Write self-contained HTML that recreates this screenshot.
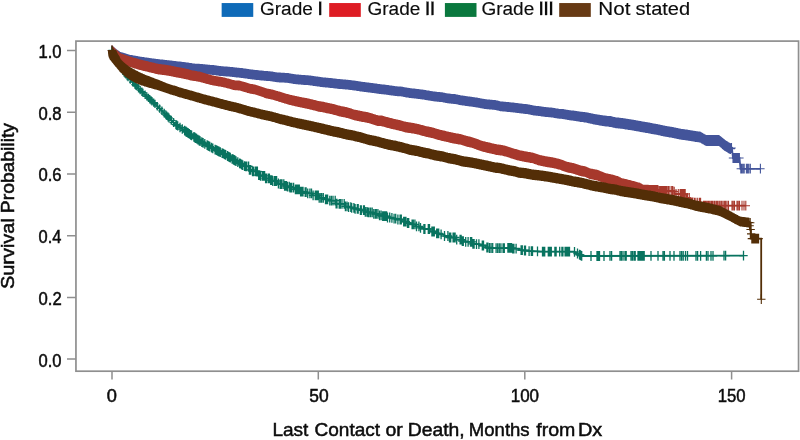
<!DOCTYPE html>
<html><head><meta charset="utf-8"><title>Survival by grade</title>
<style>
html,body{margin:0;padding:0;background:#fff}
#c{position:relative;width:800px;height:440px;overflow:hidden;background:#fff}
</style></head><body><div id="c">
<svg width="800" height="440" viewBox="0 0 800 440" style="position:absolute;left:0;top:0;will-change:transform">
<g fill="none" stroke="#8f8f8f" stroke-width="1.7">
<rect x="75.95" y="41.1" width="722.6" height="330.1"/>
<path d="M67 50.5H75.9M67 112.2H75.9M67 173.9H75.9M67 235.7H75.9M67 297.4H75.9M67 359.1H75.9M112 371.2V379.6M318.3 371.2V379.6M524.8 371.2V379.6M731.6 371.2V379.6" stroke-width="1.5"/>
</g>
<g fill="none" stroke="#43549a">
<path d="M112 50.5L116 54L120 56.8L130 59.8L140 61.5L150 63L160 64.2L170 65.4L174.8 66L180.6 66.6L186.3 67.3L194.5 68.6L200.8 68.8L209 69.7L214.3 70.1L219.7 71L225.7 71.4L231.8 71.9L236.6 72.5L242.2 73.1L245.9 73.6L250.6 74.3L256.7 75L263.5 75.7L271.3 76.3L276.5 77.3L280.8 77.6L287.5 77.9L295.1 79.2L301.7 79.8L309.2 80.3L315.3 81.2L322.9 82.3L330.5 83L338.4 83.9L345.3 84.5L349 84.9L354.4 85.5L362 86.7L368.6 87.6L375.5 88.3L379.1 89L386.3 89.7L392.4 90.6L396.4 91.2L401.2 91.4L406 92.5L410.6 93.1L418.9 94.1L424.3 94.8L431.2 96L437.8 96.9L441.8 97.1L446.6 98.2L451.6 98.8L455.3 99.1L460.2 100.1L467.1 101.2L472.1 101.8L477.9 102.7L482.1 103.6L486.7 104.3L494.8 104.9L500.6 106.3L508.8 107.1L513.7 107.5L521.8 108.6L528.2 109.3L534.3 110.6L538.6 111L544.6 111.9L551.6 112.5L559.5 113.8L563.2 114.1L569.2 115.2L574.2 115.7L579.5 116.6L587.1 117.6L594.3 119.3L598.5 120L605.5 121.1L610.5 121.5L616 122.8L622.4 123.4L628.1 124.4L631.9 124.9L639.5 126.3L647.6 127.7L652.5 128.7L657 129.4L665.2 131.2L672.7 132.5L680.7 134.2L686.9 135L690.7 135.7L696.5 136.6L700 137L706 140.5L719 140.5L725 145.5L730 148.5L732 149L733 158L739.5 158L740.5 168.8L760.4 168.8" stroke-width="1.8" stroke-linejoin="miter" stroke-miterlimit="2"/>
<path d="M112 45.6v9.8M107.8 50.5h8.4M112.6 46.1v9.8M108.4 51h8.4M113.2 46.7v9.8M109 51.6h8.4M113.8 47.2v9.8M109.6 52.1h8.4M114.4 47.7v9.8M110.2 52.6h8.4M115 48.2v9.8M110.8 53.1h8.4M115.6 48.8v9.8M111.4 53.7h8.4M116.2 49.2v9.8M112 54.1h8.4M116.9 49.7v9.8M112.7 54.6h8.4M117.5 50.2v9.8M113.3 55.1h8.4M118.2 50.6v9.8M114 55.5h8.4M118.9 51.1v9.8M114.7 56h8.4M119.5 51.5v9.8M115.3 56.4h8.4M120.2 51.9v9.8M116 56.8h8.4M120.9 52.1v9.8M116.7 57h8.4M121.7 52.4v9.8M117.5 57.3h8.4M122.5 52.6v9.8M118.3 57.5h8.4M123.2 52.8v9.8M119 57.7h8.4M124 53.1v9.8M119.8 58h8.4M124.8 53.3v9.8M120.6 58.2h8.4M125.5 53.5v9.8M121.3 58.4h8.4M126.3 53.7v9.8M122.1 58.6h8.4M127.1 54v9.8M122.9 58.9h8.4M127.8 54.2v9.8M123.6 59.1h8.4M128.6 54.4v9.8M124.4 59.3h8.4M129.4 54.7v9.8M125.2 59.6h8.4M130.1 54.9v9.8M125.9 59.8h8.4M130.9 55v9.8M126.7 59.9h8.4M131.7 55.1v9.8M127.5 60h8.4M132.5 55.3v9.8M128.3 60.2h8.4M133.3 55.4v9.8M129.1 60.3h8.4M134.1 55.6v9.8M129.9 60.5h8.4M134.9 55.7v9.8M130.7 60.6h8.4M135.6 55.8v9.8M131.4 60.7h8.4M136.4 56v9.8M132.2 60.9h8.4M137.2 56.1v9.8M133 61h8.4M138 56.3v9.8M133.8 61.2h8.4M138.8 56.4v9.8M134.6 61.3h8.4M139.6 56.5v9.8M135.4 61.4h8.4M140.4 56.7v9.8M136.2 61.6h8.4M141.2 56.8v9.8M137 61.7h8.4M142 56.9v9.8M137.8 61.8h8.4M142.7 57v9.8M138.5 61.9h8.4M143.5 57.1v9.8M139.3 62h8.4M144.3 57.2v9.8M140.1 62.1h8.4M145.1 57.4v9.8M140.9 62.3h8.4M145.9 57.5v9.8M141.7 62.4h8.4M146.7 57.6v9.8M142.5 62.5h8.4M147.5 57.7v9.8M143.3 62.6h8.4M148.3 57.8v9.8M144.1 62.7h8.4M149.1 58v9.8M144.9 62.9h8.4M149.9 58.1v9.8M145.7 63h8.4M150.7 58.2v9.8M146.5 63.1h8.4M151.5 58.3v9.8M147.3 63.2h8.4M152.2 58.4v9.8M148 63.3h8.4M153 58.5v9.8M148.8 63.4h8.4M153.8 58.6v9.8M149.6 63.5h8.4M154.6 58.7v9.8M150.4 63.6h8.4M155.4 58.8v9.8M151.2 63.7h8.4M156.2 58.9v9.8M152 63.8h8.4M157 59v9.8M152.8 63.9h8.4M157.8 59.1v9.8M153.6 64h8.4M158.6 59.2v9.8M154.4 64.1h8.4M159.4 59.3v9.8M155.2 64.2h8.4M160.2 59.4v9.8M156 64.3h8.4M161 59.5v9.8M156.8 64.4h8.4M161.8 59.5v9.8M157.6 64.4h8.4M162.6 59.6v9.8M158.4 64.5h8.4M163.4 59.7v9.8M159.2 64.6h8.4M164.2 59.8v9.8M160 64.7h8.4M165 59.9v9.8M160.8 64.8h8.4M165.8 60v9.8M161.6 64.9h8.4M166.5 60.1v9.8M162.3 65h8.4M167.3 60.2v9.8M163.1 65.1h8.4M168.1 60.3v9.8M163.9 65.2h8.4M168.9 60.3v9.8M164.7 65.2h8.4M169.7 60.4v9.8M165.5 65.3h8.4M170.5 60.5v9.8M166.3 65.4h8.4M171.3 60.6v9.8M167.1 65.5h8.4M172.1 60.7v9.8M167.9 65.6h8.4M172.9 60.8v9.8M168.7 65.7h8.4M173.7 60.9v9.8M169.5 65.8h8.4M174.5 61v9.8M170.3 65.9h8.4M175.3 61.1v9.8M171.1 66h8.4M176.1 61.2v9.8M171.9 66.1h8.4M176.9 61.3v9.8M172.7 66.2h8.4M177.7 61.4v9.8M173.5 66.3h8.4M178.5 61.5v9.8M174.3 66.4h8.4M179.3 61.6v9.8M175.1 66.5h8.4M180.1 61.6v9.8M175.9 66.5h8.4M180.9 61.7v9.8M176.7 66.6h8.4M181.6 61.8v9.8M177.4 66.7h8.4M182.4 61.9v9.8M178.2 66.8h8.4M183.2 62v9.8M179 66.9h8.4M184 62.1v9.8M179.8 67h8.4M184.8 62.2v9.8M180.6 67.1h8.4M185.6 62.3v9.8M181.4 67.2h8.4M186.4 62.4v9.8M182.2 67.3h8.4M187.2 62.5v9.8M183 67.4h8.4M188 62.6v9.8M183.8 67.5h8.4M188.8 62.8v9.8M184.6 67.7h8.4M189.6 62.9v9.8M185.4 67.8h8.4M190.4 63v9.8M186.2 67.9h8.4M191.2 63.1v9.8M187 68h8.4M191.9 63.3v9.8M187.7 68.2h8.4M192.7 63.4v9.8M188.5 68.3h8.4M193.5 63.5v9.8M189.3 68.4h8.4M194.3 63.6v9.8M190.1 68.5h8.4M195.1 63.7v9.8M190.9 68.6h8.4M195.9 63.7v9.8M191.7 68.6h8.4M196.7 63.8v9.8M192.5 68.7h8.4M197.5 63.8v9.8M193.3 68.7h8.4M198.3 63.8v9.8M194.1 68.7h8.4M199.1 63.8v9.8M194.9 68.7h8.4M199.9 63.9v9.8M195.7 68.8h8.4M200.7 63.9v9.8M196.5 68.8h8.4M201.5 64v9.8M197.3 68.9h8.4M202.3 64.1v9.8M198.1 69h8.4M203.1 64.2v9.8M198.9 69.1h8.4M203.9 64.2v9.8M199.7 69.1h8.4M204.7 64.3v9.8M200.5 69.2h8.4M205.5 64.4v9.8M201.3 69.3h8.4M206.3 64.5v9.8M202.1 69.4h8.4M207.1 64.6v9.8M202.9 69.5h8.4M207.9 64.7v9.8M203.7 69.6h8.4M208.7 64.8v9.8M204.5 69.7h8.4M209.5 64.8v9.8M205.3 69.7h8.4M210.3 64.9v9.8M206.1 69.8h8.4M211 65v9.8M206.8 69.9h8.4M211.8 65v9.8M207.6 69.9h8.4M212.6 65.1v9.8M208.4 70h8.4M213.4 65.1v9.8M209.2 70h8.4M214.2 65.2v9.8M210 70.1h8.4M215 65.3v9.8M210.8 70.2h8.4M215.8 65.4v9.8M211.6 70.3h8.4M216.6 65.6v9.8M212.4 70.5h8.4M217.4 65.7v9.8M213.2 70.6h8.4M218.2 65.8v9.8M214 70.7h8.4M219 65.9v9.8M214.8 70.8h8.4M219.8 66.1v9.8M215.6 71h8.4M220.6 66.1v9.8M216.4 71h8.4M221.4 66.2v9.8M217.2 71.1h8.4M222.2 66.2v9.8M218 71.1h8.4M223 66.3v9.8M218.8 71.2h8.4M223.8 66.4v9.8M219.6 71.3h8.4M224.6 66.4v9.8M220.4 71.3h8.4M225.4 66.5v9.8M221.2 71.4h8.4M226.2 66.6v9.8M222 71.5h8.4M227 66.6v9.8M222.8 71.5h8.4M227.7 66.7v9.8M223.5 71.6h8.4M228.5 66.8v9.8M224.3 71.7h8.4M229.3 66.8v9.8M225.1 71.7h8.4M230.1 66.9v9.8M225.9 71.8h8.4M230.9 67v9.8M226.7 71.9h8.4M231.7 67v9.8M227.5 71.9h8.4M232.5 67.1v9.8M228.3 72h8.4M233.3 67.2v9.8M229.1 72.1h8.4M234.1 67.3v9.8M229.9 72.2h8.4M234.9 67.4v9.8M230.7 72.3h8.4M235.7 67.5v9.8M231.5 72.4h8.4M236.5 67.6v9.8M232.3 72.5h8.4M237.3 67.7v9.8M233.1 72.6h8.4M238.1 67.7v9.8M233.9 72.6h8.4M238.9 67.8v9.8M234.7 72.7h8.4M239.7 67.9v9.8M235.5 72.8h8.4M240.5 68v9.8M236.3 72.9h8.4M241.3 68.1v9.8M237.1 73h8.4M242.1 68.1v9.8M237.9 73h8.4M242.9 68.3v9.8M238.7 73.2h8.4M243.7 68.4v9.8M239.5 73.3h8.4M244.4 68.5v9.8M240.2 73.4h8.4M245.2 68.6v9.8M241 73.5h8.4M246 68.7v9.8M241.8 73.6h8.4M246.8 68.8v9.8M242.6 73.7h8.4M247.6 68.9v9.8M243.4 73.8h8.4M248.4 69.1v9.8M244.2 74h8.4M249.2 69.2v9.8M245 74.1h8.4M250 69.3v9.8M245.8 74.2h8.4M250.8 69.4v9.8M246.6 74.3h8.4M251.6 69.5v9.8M247.4 74.4h8.4M252.4 69.6v9.8M248.2 74.5h8.4M253.2 69.7v9.8M249 74.6h8.4M254 69.8v9.8M249.8 74.7h8.4M254.8 69.9v9.8M250.6 74.8h8.4M255.6 70v9.8M251.4 74.9h8.4M256.3 70.1v9.8M252.1 75h8.4M257.1 70.1v9.8M252.9 75h8.4M257.9 70.2v9.8M253.7 75.1h8.4M258.7 70.3v9.8M254.5 75.2h8.4M259.5 70.4v9.8M255.3 75.3h8.4M260.3 70.5v9.8M256.1 75.4h8.4M261.1 70.6v9.8M256.9 75.5h8.4M261.9 70.6v9.8M257.7 75.5h8.4M262.7 70.7v9.8M258.5 75.6h8.4M263.5 70.8v9.8M259.3 75.7h8.4M264.3 70.9v9.8M260.1 75.8h8.4M265.1 70.9v9.8M260.9 75.8h8.4M265.9 71v9.8M261.7 75.9h8.4M266.7 71.1v9.8M262.5 76h8.4M267.5 71.1v9.8M263.3 76h8.4M268.3 71.2v9.8M264.1 76.1h8.4M269.1 71.3v9.8M264.9 76.2h8.4M269.9 71.3v9.8M265.7 76.2h8.4M270.7 71.4v9.8M266.5 76.3h8.4M271.5 71.5v9.8M267.3 76.4h8.4M272.3 71.6v9.8M268.1 76.5h8.4M273.1 71.8v9.8M268.9 76.7h8.4M273.8 71.9v9.8M269.6 76.8h8.4M274.6 72v9.8M270.4 76.9h8.4M275.4 72.2v9.8M271.2 77.1h8.4M276.2 72.3v9.8M272 77.2h8.4M277 72.4v9.8M272.8 77.3h8.4M277.8 72.5v9.8M273.6 77.4h8.4M278.6 72.5v9.8M274.4 77.4h8.4M279.4 72.6v9.8M275.2 77.5h8.4M280.2 72.6v9.8M276 77.5h8.4M281 72.7v9.8M276.8 77.6h8.4M281.8 72.7v9.8M277.6 77.6h8.4M282.6 72.8v9.8M278.4 77.7h8.4M283.4 72.8v9.8M279.2 77.7h8.4M284.2 72.8v9.8M280 77.7h8.4M285 72.9v9.8M280.8 77.8h8.4M285.8 72.9v9.8M281.6 77.8h8.4M286.6 72.9v9.8M282.4 77.8h8.4M287.4 73v9.8M283.2 77.9h8.4M288.2 73.1v9.8M284 78h8.4M289 73.2v9.8M284.8 78.1h8.4M289.7 73.4v9.8M285.5 78.3h8.4M290.5 73.5v9.8M286.3 78.4h8.4M291.3 73.7v9.8M287.1 78.6h8.4M292.1 73.8v9.8M287.9 78.7h8.4M292.9 73.9v9.8M288.7 78.8h8.4M293.7 74.1v9.8M289.5 79h8.4M294.5 74.2v9.8M290.3 79.1h8.4M295.3 74.3v9.8M291.1 79.2h8.4M296.1 74.4v9.8M291.9 79.3h8.4M296.9 74.5v9.8M292.7 79.4h8.4M297.7 74.5v9.8M293.5 79.4h8.4M298.4 74.6v9.8M294.2 79.5h8.4M299.2 74.7v9.8M295 79.6h8.4M300 74.8v9.8M295.8 79.7h8.4M300.8 74.8v9.8M296.6 79.7h8.4M301.6 74.9v9.8M297.4 79.8h8.4M302.4 75v9.8M298.2 79.9h8.4M303.2 75v9.8M299 79.9h8.4M304 75.1v9.8M299.8 80h8.4M304.8 75.1v9.8M300.6 80h8.4M305.6 75.2v9.8M301.4 80.1h8.4M306.4 75.2v9.8M302.2 80.1h8.4M307.2 75.3v9.8M303 80.2h8.4M308 75.3v9.8M303.8 80.2h8.4M308.8 75.4v9.8M304.6 80.3h8.4M309.6 75.5v9.8M305.4 80.4h8.4M310.4 75.6v9.8M306.2 80.5h8.4M311.2 75.7v9.8M307 80.6h8.4M312 75.8v9.8M307.8 80.7h8.4M312.8 76v9.8M308.6 80.9h8.4M313.6 76.1v9.8M309.4 81h8.4M314.4 76.2v9.8M310.2 81.1h8.4M315.2 76.3v9.8M311 81.2h8.4M315.9 76.4v9.8M311.7 81.3h8.4M316.7 76.5v9.8M312.5 81.4h8.4M317.5 76.6v9.8M313.3 81.5h8.4M318.3 76.7v9.8M314.1 81.6h8.4M319.1 76.8v9.8M314.9 81.7h8.4M319.9 77v9.8M315.7 81.9h8.4M320.7 77.1v9.8M316.5 82h8.4M321.5 77.2v9.8M317.3 82.1h8.4M322.3 77.3v9.8M318.1 82.2h8.4M323.1 77.4v9.8M318.9 82.3h8.4M323.9 77.5v9.8M319.7 82.4h8.4M324.7 77.5v9.8M320.5 82.4h8.4M325.5 77.6v9.8M321.3 82.5h8.4M326.3 77.7v9.8M322.1 82.6h8.4M327.1 77.8v9.8M322.9 82.7h8.4M327.9 77.8v9.8M323.7 82.7h8.4M328.7 77.9v9.8M324.5 82.8h8.4M329.5 78v9.8M325.3 82.9h8.4M330.3 78.1v9.8M326.1 83h8.4M331 78.1v9.8M326.8 83h8.4M331.8 78.2v9.8M327.6 83.1h8.4M332.6 78.3v9.8M328.4 83.2h8.4M333.4 78.4v9.8M329.2 83.3h8.4M334.2 78.5v9.8M330 83.4h8.4M335 78.6v9.8M330.8 83.5h8.4M335.8 78.7v9.8M331.6 83.6h8.4M336.6 78.8v9.8M332.4 83.7h8.4M337.4 78.9v9.8M333.2 83.8h8.4M338.2 79v9.8M334 83.9h8.4M339 79.1v9.8M334.8 84h8.4M339.8 79.1v9.8M335.6 84h8.4M340.6 79.2v9.8M336.4 84.1h8.4M341.4 79.3v9.8M337.2 84.2h8.4M342.2 79.3v9.8M338 84.2h8.4M343 79.4v9.8M338.8 84.3h8.4M343.8 79.5v9.8M339.6 84.4h8.4M344.6 79.5v9.8M340.4 84.4h8.4M345.4 79.6v9.8M341.2 84.5h8.4M346.2 79.7v9.8M342 84.6h8.4M347 79.8v9.8M342.8 84.7h8.4M347.8 79.8v9.8M343.6 84.7h8.4M348.6 79.9v9.8M344.4 84.8h8.4M349.3 80v9.8M345.1 84.9h8.4M350.1 80.1v9.8M345.9 85h8.4M350.9 80.2v9.8M346.7 85.1h8.4M351.7 80.3v9.8M347.5 85.2h8.4M352.5 80.4v9.8M348.3 85.3h8.4M353.3 80.5v9.8M349.1 85.4h8.4M354.1 80.6v9.8M349.9 85.5h8.4M354.9 80.7v9.8M350.7 85.6h8.4M355.7 80.8v9.8M351.5 85.7h8.4M356.5 81v9.8M352.3 85.9h8.4M357.3 81.1v9.8M353.1 86h8.4M358.1 81.2v9.8M353.9 86.1h8.4M358.9 81.3v9.8M354.7 86.2h8.4M359.6 81.5v9.8M355.4 86.4h8.4M360.4 81.6v9.8M356.2 86.5h8.4M361.2 81.7v9.8M357 86.6h8.4M362 81.8v9.8M357.8 86.7h8.4M362.8 81.9v9.8M358.6 86.8h8.4M363.6 82v9.8M359.4 86.9h8.4M364.4 82.1v9.8M360.2 87h8.4M365.2 82.2v9.8M361 87.1h8.4M366 82.3v9.8M361.8 87.2h8.4M366.8 82.4v9.8M362.6 87.3h8.4M367.6 82.5v9.8M363.4 87.4h8.4M368.4 82.6v9.8M364.2 87.5h8.4M369.2 82.7v9.8M365 87.6h8.4M370 82.8v9.8M365.8 87.7h8.4M370.8 82.9v9.8M366.6 87.8h8.4M371.5 83v9.8M367.3 87.9h8.4M372.3 83.1v9.8M368.1 88h8.4M373.1 83.2v9.8M368.9 88.1h8.4M373.9 83.3v9.8M369.7 88.2h8.4M374.7 83.4v9.8M370.5 88.3h8.4M375.5 83.4v9.8M371.3 88.3h8.4M376.3 83.6v9.8M372.1 88.5h8.4M377.1 83.7v9.8M372.9 88.6h8.4M377.9 83.9v9.8M373.7 88.8h8.4M378.7 84v9.8M374.5 88.9h8.4M379.5 84.1v9.8M375.3 89h8.4M380.3 84.2v9.8M376.1 89.1h8.4M381.1 84.3v9.8M376.9 89.2h8.4M381.8 84.4v9.8M377.6 89.3h8.4M382.6 84.4v9.8M378.4 89.3h8.4M383.4 84.5v9.8M379.2 89.4h8.4M384.2 84.6v9.8M380 89.5h8.4M385 84.7v9.8M380.8 89.6h8.4M385.8 84.8v9.8M381.6 89.7h8.4M386.6 84.9v9.8M382.4 89.8h8.4M387.4 85v9.8M383.2 89.9h8.4M388.2 85.1v9.8M384 90h8.4M389 85.2v9.8M384.8 90.1h8.4M389.8 85.4v9.8M385.6 90.3h8.4M390.6 85.5v9.8M386.4 90.4h8.4M391.4 85.6v9.8M387.2 90.5h8.4M392.2 85.7v9.8M388 90.6h8.4M393 85.8v9.8M388.8 90.7h8.4M393.7 85.9v9.8M389.5 90.8h8.4M394.5 86v9.8M390.3 90.9h8.4M395.3 86.2v9.8M391.1 91.1h8.4M396.1 86.3v9.8M391.9 91.2h8.4M396.9 86.3v9.8M392.7 91.2h8.4M397.7 86.4v9.8M393.5 91.3h8.4M398.5 86.4v9.8M394.3 91.3h8.4M399.3 86.5v9.8M395.1 91.4h8.4M400.1 86.5v9.8M395.9 91.4h8.4M400.9 86.5v9.8M396.7 91.4h8.4M401.7 86.7v9.8M397.5 91.6h8.4M402.5 86.8v9.8M398.3 91.7h8.4M403.3 87v9.8M399.1 91.9h8.4M404.1 87.2v9.8M399.9 92.1h8.4M404.8 87.3v9.8M400.6 92.2h8.4M405.6 87.5v9.8M401.4 92.4h8.4M406.4 87.6v9.8M402.2 92.5h8.4M407.2 87.7v9.8M403 92.6h8.4M408 87.8v9.8M403.8 92.7h8.4M408.8 88v9.8M404.6 92.9h8.4M409.6 88.1v9.8M405.4 93h8.4M410.4 88.2v9.8M406.2 93.1h8.4M411.2 88.3v9.8M407 93.2h8.4M412 88.4v9.8M407.8 93.3h8.4M412.7 88.4v9.8M408.5 93.3h8.4M413.5 88.5v9.8M409.3 93.4h8.4M414.3 88.6v9.8M410.1 93.5h8.4M415.1 88.7v9.8M410.9 93.6h8.4M415.9 88.8v9.8M411.7 93.7h8.4M416.7 88.9v9.8M412.5 93.8h8.4M417.5 89v9.8M413.3 93.9h8.4M418.3 89.1v9.8M414.1 94h8.4M419.1 89.2v9.8M414.9 94.1h8.4M419.9 89.3v9.8M415.7 94.2h8.4M420.7 89.4v9.8M416.5 94.3h8.4M421.5 89.5v9.8M417.3 94.4h8.4M422.3 89.6v9.8M418.1 94.5h8.4M423.1 89.7v9.8M418.9 94.6h8.4M423.9 89.8v9.8M419.7 94.7h8.4M424.7 90v9.8M420.5 94.9h8.4M425.4 90.1v9.8M421.2 95h8.4M426.2 90.2v9.8M422 95.1h8.4M427 90.4v9.8M422.8 95.3h8.4M427.8 90.5v9.8M423.6 95.4h8.4M428.6 90.6v9.8M424.4 95.5h8.4M429.4 90.8v9.8M425.2 95.7h8.4M430.2 90.9v9.8M426 95.8h8.4M431 91v9.8M426.8 95.9h8.4M431.8 91.2v9.8M427.6 96.1h8.4M432.5 91.3v9.8M428.3 96.2h8.4M433.3 91.4v9.8M429.1 96.3h8.4M434.1 91.5v9.8M429.9 96.4h8.4M434.9 91.6v9.8M430.7 96.5h8.4M435.7 91.7v9.8M431.5 96.6h8.4M436.5 91.8v9.8M432.3 96.7h8.4M437.3 91.9v9.8M433.1 96.8h8.4M438.1 92v9.8M433.9 96.9h8.4M438.9 92v9.8M434.7 96.9h8.4M439.7 92.1v9.8M435.5 97h8.4M440.5 92.2v9.8M436.3 97.1h8.4M441.3 92.2v9.8M437.1 97.1h8.4M442.1 92.3v9.8M437.9 97.2h8.4M442.9 92.5v9.8M438.7 97.4h8.4M443.6 92.7v9.8M439.4 97.6h8.4M444.4 92.8v9.8M440.2 97.7h8.4M445.2 93v9.8M441 97.9h8.4M446 93.2v9.8M441.8 98.1h8.4M446.8 93.3v9.8M442.6 98.2h8.4M447.6 93.4v9.8M443.4 98.3h8.4M448.4 93.5v9.8M444.2 98.4h8.4M449.2 93.6v9.8M445 98.5h8.4M449.9 93.7v9.8M445.7 98.6h8.4M450.7 93.8v9.8M446.5 98.7h8.4M451.5 93.9v9.8M447.3 98.8h8.4M452.3 94v9.8M448.1 98.9h8.4M453.1 94v9.8M448.9 98.9h8.4M453.9 94.1v9.8M449.7 99h8.4M454.7 94.1v9.8M450.5 99h8.4M455.5 94.2v9.8M451.3 99.1h8.4M456.3 94.4v9.8M452.1 99.3h8.4M457.1 94.5v9.8M452.9 99.4h8.4M457.9 94.7v9.8M453.7 99.6h8.4M458.7 94.9v9.8M454.5 99.8h8.4M459.4 95.1v9.8M455.2 100h8.4M460.2 95.2v9.8M456 100.1h8.4M461 95.4v9.8M456.8 100.3h8.4M461.8 95.5v9.8M457.6 100.4h8.4M462.6 95.6v9.8M458.4 100.5h8.4M463.4 95.7v9.8M459.2 100.6h8.4M464.2 95.8v9.8M460 100.7h8.4M465 95.9v9.8M460.8 100.8h8.4M465.8 96.1v9.8M461.6 101h8.4M466.5 96.2v9.8M462.3 101.1h8.4M467.3 96.3v9.8M463.1 101.2h8.4M468.1 96.4v9.8M463.9 101.3h8.4M468.9 96.5v9.8M464.7 101.4h8.4M469.7 96.6v9.8M465.5 101.5h8.4M470.5 96.7v9.8M466.3 101.6h8.4M471.3 96.8v9.8M467.1 101.7h8.4M472.1 96.9v9.8M467.9 101.8h8.4M472.9 97v9.8M468.7 101.9h8.4M473.7 97.2v9.8M469.5 102.1h8.4M474.5 97.3v9.8M470.3 102.2h8.4M475.3 97.4v9.8M471.1 102.3h8.4M476.1 97.5v9.8M471.9 102.4h8.4M476.8 97.6v9.8M472.6 102.5h8.4M477.6 97.7v9.8M473.4 102.6h8.4M478.4 97.9v9.8M474.2 102.8h8.4M479.2 98v9.8M475 102.9h8.4M480 98.2v9.8M475.8 103.1h8.4M480.8 98.4v9.8M476.6 103.3h8.4M481.6 98.5v9.8M477.4 103.4h8.4M482.3 98.7v9.8M478.1 103.6h8.4M483.1 98.8v9.8M478.9 103.7h8.4M483.9 98.9v9.8M479.7 103.8h8.4M484.7 99.1v9.8M480.5 104h8.4M485.5 99.2v9.8M481.3 104.1h8.4M486.3 99.3v9.8M482.1 104.2h8.4M487.1 99.4v9.8M482.9 104.3h8.4M487.9 99.5v9.8M483.7 104.4h8.4M488.7 99.5v9.8M484.5 104.4h8.4M489.5 99.6v9.8M485.3 104.5h8.4M490.3 99.7v9.8M486.1 104.6h8.4M491.1 99.7v9.8M486.9 104.6h8.4M491.9 99.8v9.8M487.7 104.7h8.4M492.7 99.9v9.8M488.5 104.8h8.4M493.5 99.9v9.8M489.3 104.8h8.4M494.3 100v9.8M490.1 104.9h8.4M495.1 100.1v9.8M490.9 105h8.4M495.8 100.3v9.8M491.6 105.2h8.4M496.6 100.5v9.8M492.4 105.4h8.4M497.4 100.6v9.8M493.2 105.5h8.4M498.2 100.8v9.8M494 105.7h8.4M499 101v9.8M494.8 105.9h8.4M499.7 101.2v9.8M495.5 106.1h8.4M500.5 101.4v9.8M496.3 106.3h8.4M501.3 101.4v9.8M497.1 106.3h8.4M502.1 101.5v9.8M497.9 106.4h8.4M502.9 101.6v9.8M498.7 106.5h8.4M503.7 101.7v9.8M499.5 106.6h8.4M504.5 101.7v9.8M500.3 106.6h8.4M505.3 101.8v9.8M501.1 106.7h8.4M506.1 101.9v9.8M501.9 106.8h8.4M506.9 102v9.8M502.7 106.9h8.4M507.7 102.1v9.8M503.5 107h8.4M508.5 102.1v9.8M504.3 107h8.4M509.3 102.2v9.8M505.1 107.1h8.4M510.1 102.3v9.8M505.9 107.2h8.4M510.9 102.4v9.8M506.7 107.3h8.4M511.7 102.4v9.8M507.5 107.3h8.4M512.5 102.5v9.8M508.3 107.4h8.4M513.3 102.6v9.8M509.1 107.5h8.4M514 102.7v9.8M509.8 107.6h8.4M514.8 102.8v9.8M510.6 107.7h8.4M515.6 102.9v9.8M511.4 107.8h8.4M516.4 103v9.8M512.2 107.9h8.4M517.2 103.1v9.8M513 108h8.4M518 103.2v9.8M513.8 108.1h8.4M518.8 103.3v9.8M514.6 108.2h8.4M519.6 103.4v9.8M515.4 108.3h8.4M520.4 103.5v9.8M516.2 108.4h8.4M521.2 103.6v9.8M517 108.5h8.4M522 103.7v9.8M517.8 108.6h8.4M522.8 103.8v9.8M518.6 108.7h8.4M523.6 103.9v9.8M519.4 108.8h8.4M524.4 104v9.8M520.2 108.9h8.4M525.2 104.1v9.8M521 109h8.4M526 104.1v9.8M521.8 109h8.4M526.8 104.2v9.8M522.6 109.1h8.4M527.5 104.3v9.8M523.3 109.2h8.4M528.3 104.4v9.8M524.1 109.3h8.4M529.1 104.6v9.8M524.9 109.5h8.4M529.9 104.8v9.8M525.7 109.7h8.4M530.7 104.9v9.8M526.5 109.8h8.4M531.5 105.1v9.8M527.3 110h8.4M532.3 105.2v9.8M528.1 110.1h8.4M533 105.4v9.8M528.8 110.3h8.4M533.8 105.6v9.8M529.6 110.5h8.4M534.6 105.7v9.8M530.4 110.6h8.4M535.4 105.8v9.8M531.2 110.7h8.4M536.2 105.9v9.8M532 110.8h8.4M537 105.9v9.8M532.8 110.8h8.4M537.8 106v9.8M533.6 110.9h8.4M538.6 106.1v9.8M534.4 111h8.4M539.4 106.2v9.8M535.2 111.1h8.4M540.2 106.3v9.8M536 111.2h8.4M541 106.5v9.8M536.8 111.4h8.4M541.8 106.6v9.8M537.6 111.5h8.4M542.5 106.7v9.8M538.3 111.6h8.4M543.3 106.8v9.8M539.1 111.7h8.4M544.1 106.9v9.8M539.9 111.8h8.4M544.9 107v9.8M540.7 111.9h8.4M545.7 107.1v9.8M541.5 112h8.4M546.5 107.2v9.8M542.3 112.1h8.4M547.3 107.2v9.8M543.1 112.1h8.4M548.1 107.3v9.8M543.9 112.2h8.4M548.9 107.4v9.8M544.7 112.3h8.4M549.7 107.5v9.8M545.5 112.4h8.4M550.5 107.5v9.8M546.3 112.4h8.4M551.3 107.6v9.8M547.1 112.5h8.4M552.1 107.7v9.8M547.9 112.6h8.4M552.9 107.8v9.8M548.7 112.7h8.4M553.7 108v9.8M549.5 112.9h8.4M554.5 108.1v9.8M550.3 113h8.4M555.3 108.2v9.8M551.1 113.1h8.4M556 108.4v9.8M551.8 113.3h8.4M556.8 108.5v9.8M552.6 113.4h8.4M557.6 108.6v9.8M553.4 113.5h8.4M558.4 108.7v9.8M554.2 113.6h8.4M559.2 108.9v9.8M555 113.8h8.4M560 109v9.8M555.8 113.9h8.4M560.8 109v9.8M556.6 113.9h8.4M561.6 109v9.8M557.4 114h8.4M562.4 109.1v9.8M558.2 114h8.4M563.2 109.1v9.9M559 114.1h8.5M564 109.3v9.9M559.7 114.2h8.5M564.8 109.4v9.9M560.5 114.4h8.5M565.5 109.6v9.9M561.3 114.5h8.5M566.3 109.7v9.9M562.1 114.7h8.5M567.1 109.8v9.9M562.9 114.8h8.5M567.9 110v10M563.6 115h8.5M568.7 110.1v10M564.4 115.1h8.5M569.5 110.2v10M565.2 115.2h8.6M570.3 110.3v10M566 115.3h8.6M571.1 110.4v10M566.8 115.4h8.6M571.9 110.5v10M567.6 115.5h8.6M572.7 110.6v10M568.3 115.6h8.6M573.4 110.6v10.1M569.1 115.7h8.6M574.2 110.7v10.1M569.9 115.7h8.6M575 110.8v10.1M570.7 115.9h8.7M575.8 111v10.1M571.5 116h8.7M576.6 111.1v10.1M572.3 116.1h8.7M577.4 111.2v10.1M573.1 116.3h8.7M578.2 111.3v10.2M573.8 116.4h8.7M579 111.4v10.2M574.6 116.5h8.7M579.8 111.6v10.2M575.4 116.7h8.7M580.6 111.7v10.2M576.2 116.8h8.7M581.4 111.8v10.2M577 116.9h8.8M582.1 111.8v10.2M577.8 117h8.8M582.9 111.9v10.2M578.5 117.1h8.8M583.7 112v10.3M579.3 117.2h8.8M584.5 112.1v10.3M580.1 117.3h8.8M585.3 112.2v10.3M580.9 117.4h8.8M586.1 112.3v10.3M581.7 117.5h8.8M586.9 112.4v10.3M582.5 117.6h8.9M587.7 112.6v10.3M583.3 117.8h8.9M588.5 112.8v10.4M584 117.9h8.9M589.3 112.9v10.4M584.8 118.1h8.9M590 113.1v10.4M585.6 118.3h8.9M590.8 113.3v10.4M586.4 118.5h8.9M591.6 113.4v10.4M587.1 118.6h8.9M592.4 113.6v10.4M587.9 118.8h8.9M593.2 113.8v10.4M588.7 119h9M593.9 113.9v10.5M589.5 119.2h9M594.7 114.1v10.5M590.2 119.3h9M595.5 114.2v10.5M591 119.5h9M596.3 114.3v10.5M591.8 119.6h9M597.1 114.5v10.5M592.6 119.7h9M597.9 114.6v10.5M593.4 119.9h9M598.7 114.7v10.6M594.1 120h9M599.5 114.8v10.6M594.9 120.1h9.1M600.2 114.9v10.6M595.7 120.2h9.1M601 115.1v10.6M596.5 120.4h9.1M601.8 115.2v10.6M597.3 120.5h9.1M602.6 115.3v10.6M598.1 120.6h9.1M603.4 115.4v10.7M598.8 120.7h9.1M604.2 115.5v10.7M599.6 120.9h9.1M605 115.6v10.7M600.4 121h9.2M605.8 115.7v10.7M601.2 121.1h9.2M606.6 115.8v10.7M602 121.2h9.2M607.4 115.9v10.7M602.8 121.2h9.2M608.2 115.9v10.7M603.6 121.3h9.2M609 116v10.8M604.4 121.4h9.2M609.8 116.1v10.8M605.1 121.5h9.2M610.6 116.1v10.8M605.9 121.5h9.2M611.3 116.3v10.8M606.7 121.7h9.2M612.1 116.5v10.8M607.5 121.9h9.2M612.9 116.7v10.8M608.3 122.1h9.2M613.7 116.9v10.8M609.1 122.2h9.2M614.5 117v10.8M609.8 122.4h9.2M615.2 117.2v10.8M610.6 122.6h9.2M616 117.4v10.8M611.4 122.8h9.2M616.8 117.5v10.8M612.2 122.9h9.2M617.6 117.5v10.8M613 122.9h9.2M618.4 117.6v10.8M613.8 123h9.2M619.2 117.7v10.8M614.6 123.1h9.2M620 117.8v10.8M615.4 123.2h9.2M620.8 117.9v10.8M616.2 123.3h9.2M621.6 118v10.8M617 123.3h9.2M622.4 118v10.8M617.8 123.4h9.2M623.2 118.2v10.8M618.6 123.6h9.2M624 118.3v10.8M619.3 123.7h9.2M624.8 118.4v10.8M620.1 123.8h9.2M625.5 118.6v10.8M620.9 123.9h9.2M626.3 118.7v10.8M621.7 124.1h9.2M627.1 118.8v10.8M622.5 124.2h9.2M627.9 118.9v10.8M623.3 124.3h9.2M628.7 119.1v10.8M624.1 124.4h9.2M629.5 119.2v10.8M624.9 124.6h9.2M630.3 119.3v10.8M625.7 124.7h9.2M631.1 119.4v10.8M626.5 124.8h9.2M631.9 119.5v10.8M627.2 124.9h9.2M632.7 119.7v10.8M628 125.1h9.2M633.4 119.8v10.8M628.8 125.2h9.2M634.2 120v10.8M629.6 125.3h9.2M635 120.1v10.8M630.4 125.5h9.2M635.8 120.3v10.8M631.2 125.6h9.2M636.6 120.4v10.8M632 125.8h9.2M637.4 120.5v10.8M632.8 125.9h9.2M638.2 120.7v10.8M633.5 126.1h9.2M638.9 120.8v10.8M634.3 126.2h9.2M639.7 121v10.8M635.1 126.4h9.2M640.5 121.1v10.8M635.9 126.5h9.2M641.3 121.3v10.8M636.7 126.6h9.2M642.1 121.4v10.8M637.5 126.8h9.2M642.9 121.5v10.8M638.3 126.9h9.2M643.7 121.7v10.8M639.1 127h9.2M644.5 121.8v10.8M639.8 127.2h9.2M645.3 121.9v10.8M640.6 127.3h9.2M646 122.1v10.8M641.4 127.4h9.2M646.8 122.2v10.8M642.2 127.6h9.2M647.6 122.3v10.8M643 127.7h9.2M648.4 122.5v10.8M643.8 127.9h9.2M649.2 122.6v10.8M644.6 128h9.2M650 122.8v10.8M645.4 128.2h9.2M650.8 123v10.8M646.1 128.4h9.2M651.5 123.1v10.8M646.9 128.5h9.2M652.3 123.3v10.8M647.7 128.7h9.2M653.1 123.4v10.8M648.5 128.8h9.2M653.9 123.5v10.8M649.3 128.9h9.2M654.7 123.7v10.8M650.1 129.1h9.2M655.5 123.8v10.8M650.9 129.2h9.2M656.3 123.9v10.8M651.7 129.3h9.2M657.1 124v10.8M652.4 129.4h9.2M657.8 124.2v10.8M653.2 129.6h9.2M658.6 124.4v10.8M654 129.8h9.2M659.4 124.5v10.8M654.8 129.9h9.2M660.2 124.7v10.8M655.6 130.1h9.2M661 124.9v10.8M656.3 130.3h9.2M661.7 125.1v10.8M657.1 130.5h9.2M662.5 125.2v10.8M657.9 130.6h9.2M663.3 125.4v10.8M658.7 130.8h9.2M664.1 125.6v10.8M659.5 131h9.2M664.9 125.8v10.8M660.3 131.1h9.2M665.7 125.9v10.8M661 131.3h9.2M666.4 126v10.8M661.8 131.4h9.2M667.2 126.2v10.8M662.6 131.6h9.2M668 126.3v10.8M663.4 131.7h9.2M668.8 126.4v10.8M664.2 131.8h9.2M669.6 126.6v10.8M665 132h9.2M670.4 126.7v10.8M665.8 132.1h9.2M671.2 126.8v10.8M666.6 132.2h9.2M672 127v10.8M667.3 132.4h9.2M672.8 127.1v10.8M668.1 132.5h9.2M673.5 127.3v10.8M668.9 132.7h9.2M674.3 127.4v10.8M669.7 132.8h9.2M675.1 127.6v10.8M670.5 133h9.2M675.9 127.8v10.8M671.3 133.2h9.2M676.7 127.9v10.8M672 133.3h9.2M677.4 128.1v10.8M672.8 133.5h9.2M678.2 128.3v10.8M673.6 133.7h9.2M679 128.4v10.8M674.4 133.8h9.2M679.8 128.6v10.8M675.2 134h9.2M680.6 128.8v10.8M676 134.2h9.2M681.4 128.9v10.8M676.8 134.3h9.2M682.2 129v10.8M677.5 134.4h9.2M683 129.1v10.8M678.3 134.5h9.2M683.7 129.2v10.8M679.1 134.6h9.2M684.5 129.3v10.8M679.9 134.7h9.2M685.3 129.4v10.8M680.7 134.8h9.2M686.1 129.5v10.8M681.5 134.9h9.2M686.9 129.6v10.8M682.3 135h9.2M687.7 129.8v10.8M683.1 135.2h9.2M688.5 129.9v10.8M683.9 135.3h9.2M689.3 130v10.8M684.7 135.4h9.2M690.1 130.2v10.8M685.5 135.6h9.2M690.9 130.3v10.8M686.2 135.7h9.2M691.7 130.4v10.8M687 135.8h9.2M692.4 130.5v10.8M687.8 135.9h9.2M693.2 130.7v10.8M688.6 136.1h9.2M694 130.8v10.8M689.4 136.2h9.2M694.8 130.9v10.8M690.2 136.3h9.2M695.6 131.1v10.8M691 136.4h9.2M696.4 131.2v10.8M691.8 136.6h9.2M697.2 131.3v10.8M692.6 136.7h9.2M698 131.4v10.8M693.4 136.8h9.2M698.8 131.5v10.8M694.2 136.9h9.2M699.6 131.6v10.8M695 136.9h9.2M700.4 131.8v10.8M695.7 137.2h9.2M701.1 132.2v10.8M696.4 137.6h9.2M701.7 132.6v10.8M697.1 138h9.2M702.4 133v10.8M697.8 138.4h9.2M703.1 133.4v10.8M698.5 138.8h9.2M703.8 133.8v10.8M699.2 139.2h9.2M704.5 134.2v10.8M699.9 139.6h9.2M705.2 134.6v10.8M700.6 140h9.2M705.9 135v10.8M701.3 140.4h9.2M706.7 135.1v10.8M702 140.5h9.2M707.5 135.1v10.8M702.8 140.5h9.2M708.3 135.1v10.8M703.6 140.5h9.2M709.1 135.1v10.8M704.4 140.5h9.2M709.9 135.1v10.8M705.2 140.5h9.2M710.7 135.1v10.8M706 140.5h9.2M711.5 135.1v10.8M706.8 140.5h9.2M712.3 135.1v10.8M707.6 140.5h9.2M713.1 135.1v10.8M708.4 140.5h9.2M713.9 135.1v10.8M709.2 140.5h9.2M714.7 135.1v10.8M710 140.5h9.2M715.5 135.1v10.8M710.8 140.5h9.2M716.3 135.1v10.8M711.6 140.5h9.2M717.1 135.1v10.8M712.4 140.5h9.2M717.9 135.1v10.8M713.2 140.5h9.2M718.7 135.1v10.8M714 140.5h9.2M719.5 135.5v10.8M714.8 140.9h9.2M720.1 136v10.8M715.5 141.4h9.2M720.7 136.5v10.8M716.1 141.9h9.2M721.3 137v10.8M716.7 142.4h9.2M721.9 137.5v10.8M717.3 142.9h9.2M722.5 138.1v10.8M717.9 143.5h9.2M723.2 138.6v10.8M718.5 144h9.2M723.8 139.1v10.8M719.2 144.5h9.2M724.4 139.6v10.8M719.8 145h9.2M725 140.1v10.8M720.4 145.5h9.2M725.7 140.5v10.8M721.1 145.9h9.2M726.4 140.9v10.8M721.8 146.3h9.2M727.1 141.3v10.8M722.4 146.7h9.2M727.7 141.8v10.8M723.1 147.1h9.2M728.4 142.2v10.8M723.8 147.6h9.2M729.1 142.6v10.8M724.5 148h9.2M729.8 143v10.8M725.2 148.4h9.2M730.5 143.2v10.8M725.9 148.6h9.2M733 153.1v9.8M728.8 158h8.4M733.8 153.1v9.8M729.6 158h8.4M734.6 153.1v9.8M730.4 158h8.4M735.4 153.1v9.8M731.2 158h8.4M736.2 153.1v9.8M732 158h8.4M737 153.1v9.8M732.8 158h8.4M737.8 153.1v9.8M733.6 158h8.4M738.6 153.1v9.8M734.4 158h8.4M739.4 153.1v9.8M735.2 158h8.4M740.8 163.8v9.8M736.6 168.8h8.4M741.8 163.8v9.8M737.6 168.8h8.4M743 163.8v9.8M738.8 168.8h8.4M744.2 163.8v9.8M740 168.8h8.4M746.4 163.8v9.8M742.2 168.8h8.4M747.6 163.8v9.8M743.4 168.8h8.4M748.8 163.8v9.8M744.6 168.8h8.4M750.3 163.8v9.8M746.1 168.8h8.4M760.4 163.8v9.8M756.2 168.8h8.4M731.5 143.1v9.8M727.3 148h8.4M736.5 153.1v9.8M732.3 158h8.4" stroke-width="1.1"/>
</g>
<g fill="none" stroke="#a7382c">
<path d="M112 50.5L116 54.5L120 58L130 61.8L140 64.7L150 67.1L158.4 69.1L163.3 69.7L170.1 70.7L176 72L180.1 72.7L187.4 74.3L192.2 75.5L200 76.8L205.7 78.6L213.6 80.6L221.3 81.9L226.9 83.1L234.8 85.3L239.1 85.5L243.8 86.8L249.7 88.6L254.6 89.4L260.2 91.2L266.5 93.4L273.4 94.9L280 96.9L283.9 98.1L291.2 100.2L298.6 101.8L304.1 102.9L310.8 104.3L314.7 105.3L319.1 106.5L322.9 107L327.3 108L332.6 109.1L340.4 111.3L344.7 112L350 113.4L354.2 114.9L362.5 116.6L368.5 117.7L372.6 118.9L377.4 120.6L381.8 120.9L390 123.2L394.3 124.2L398 125L406.3 127.2L413.2 128.2L418.6 129.4L425.9 131.4L433.2 133L437.9 134.5L446.2 136.5L453.7 138.2L460.9 139.4L467 141.3L470.7 142.1L475.6 143.8L482.6 146.3L488.3 147.6L496.6 149.6L502 150.3L506.7 151.5L511.3 153.1L519.2 155.4L525.1 156.6L532.5 157.9L539.3 160.2L546.7 161.8L552.5 162.6L559.9 164.4L567.4 167.2L572.9 168.2L581 170.9L585.4 171.7L589.8 173.6L597.2 175.2L604.8 178.2L611.6 179.6L617.8 181.3L621.5 183.1L628.2 184.7L636.3 186.8L640 187.8L643 189.6L658 190L659 191L674 191L675 194L686 194L687 198L690 198L691 202.6L702 202.6L703 205.7L745.8 205.7" stroke-width="1.8" stroke-linejoin="miter" stroke-miterlimit="2"/>
<path d="M112 45.6v9.8M107.8 50.5h8.4M112.6 46.2v9.8M108.4 51.1h8.4M113.1 46.7v9.8M108.9 51.6h8.4M113.7 47.3v9.8M109.5 52.2h8.4M114.3 47.9v9.8M110.1 52.8h8.4M114.8 48.4v9.8M110.6 53.3h8.4M115.4 49v9.8M111.2 53.9h8.4M116 49.6v9.8M111.8 54.5h8.4M116.6 50.1v9.8M112.4 55h8.4M117.2 50.6v9.8M113 55.5h8.4M117.8 51.1v9.8M113.6 56h8.4M118.4 51.7v9.8M114.2 56.6h8.4M119 52.2v9.8M114.7 57.1h8.4M119.6 52.7v9.9M115.3 57.6h8.5M120.2 53.1v9.9M115.9 58.1h8.5M120.9 53.4v9.9M116.7 58.3h8.5M121.7 53.7v9.9M117.4 58.6h8.5M122.4 53.9v10M118.1 58.9h8.6M123.2 54.2v10M118.9 59.2h8.6M123.9 54.5v10M119.6 59.5h8.6M124.7 54.7v10.1M120.3 59.8h8.6M125.4 55v10.1M121.1 60.1h8.7M126.2 55.3v10.1M121.8 60.3h8.7M126.9 55.5v10.2M122.5 60.6h8.7M127.6 55.8v10.2M123.3 60.9h8.7M128.4 56.1v10.2M124 61.2h8.8M129.1 56.3v10.2M124.7 61.5h8.8M129.9 56.6v10.3M125.5 61.8h8.8M130.6 56.8v10.3M126.2 62h8.8M131.4 57v10.3M127 62.2h8.9M132.2 57.2v10.4M127.7 62.4h8.9M133 57.5v10.4M128.5 62.7h8.9M133.7 57.7v10.4M129.3 62.9h8.9M134.5 57.9v10.5M130 63.1h9M135.3 58.1v10.5M130.8 63.3h9M136 58.3v10.5M131.5 63.5h9M136.8 58.5v10.5M132.3 63.8h9M137.6 58.8v10.5M133.1 64h9M138.3 59v10.5M133.8 64.2h9M139.1 59.2v10.5M134.6 64.4h9M139.9 59.4v10.5M135.4 64.7h9M140.6 59.6v10.5M136.1 64.9h9M141.4 59.8v10.5M136.9 65h9M142.2 60v10.5M137.7 65.2h9M143 60.2v10.5M138.5 65.4h9M143.8 60.4v10.5M139.3 65.6h9M144.5 60.6v10.5M140 65.8h9M145.3 60.7v10.5M140.8 66h9M146.1 60.9v10.5M141.6 66.2h9M146.9 61.1v10.5M142.4 66.4h9M147.6 61.3v10.5M143.1 66.6h9M148.4 61.5v10.5M143.9 66.7h9M149.2 61.7v10.5M144.7 66.9h9M150 61.9v10.5M145.5 67.1h9M150.7 62.1v10.5M146.3 67.3h9M151.5 62.3v10.5M147 67.5h9M152.3 62.4v10.5M147.8 67.7h9M153.1 62.6v10.5M148.6 67.9h9M153.9 62.8v10.5M149.4 68.1h9M154.6 63v10.5M150.1 68.2h9M155.4 63.2v10.5M150.9 68.4h9M156.2 63.4v10.5M151.7 68.6h9M157 63.6v10.5M152.5 68.8h9M157.8 63.7v10.5M153.3 69h9M158.5 63.9v10.5M154 69.2h9M159.3 64v10.5M154.8 69.2h9M160.1 64.1v10.5M155.6 69.3h9M160.9 64.2v10.5M156.4 69.4h9M161.7 64.3v10.5M157.2 69.5h9M162.5 64.4v10.5M158 69.6h9M163.3 64.5v10.5M158.8 69.7h9M164.1 64.6v10.5M159.6 69.9h9M164.9 64.7v10.5M160.4 70h9M165.7 64.8v10.5M161.2 70.1h9M166.5 65v10.5M162 70.2h9M167.3 65.1v10.5M162.8 70.3h9M168 65.2v10.5M163.5 70.4h9M168.8 65.3v10.5M164.3 70.6h9M169.6 65.4v10.5M165.1 70.7h9M170.4 65.6v10.5M165.9 70.8h9M171.2 65.7v10.5M166.7 71h9M172 65.9v10.5M167.5 71.1h9M172.8 66.1v10.5M168.3 71.3h9M173.5 66.2v10.5M169.1 71.5h9M174.3 66.4v10.5M169.8 71.7h9M175.1 66.6v10.5M170.6 71.8h9M175.9 66.8v10.5M171.4 72h9M176.7 66.9v10.5M172.2 72.1h9M177.5 67v10.5M173 72.3h9M178.3 67.2v10.5M173.8 72.4h9M179 67.3v10.5M174.5 72.5h9M179.8 67.4v10.5M175.3 72.7h9M180.6 67.6v10.5M176.1 72.8h9M181.4 67.8v10.5M176.9 73h9M182.2 67.9v10.5M177.7 73.2h9M183 68.1v10.5M178.5 73.3h9M183.7 68.3v10.5M179.3 73.5h9M184.5 68.4v10.5M180 73.7h9M185.3 68.6v10.5M180.8 73.8h9M186.1 68.8v10.5M181.6 74h9M186.9 69v10.4M182.4 74.2h9M187.7 69.1v10.4M183.2 74.3h8.9M188.4 69.3v10.4M184 74.5h8.9M189.2 69.5v10.4M184.8 74.7h8.9M190 69.8v10.4M185.5 74.9h8.9M190.8 70v10.4M186.3 75.1h8.9M191.5 70.2v10.3M187.1 75.3h8.9M192.3 70.4v10.3M187.9 75.5h8.8M193.1 70.5v10.3M188.7 75.7h8.8M193.9 70.6v10.3M189.5 75.8h8.8M194.7 70.8v10.3M190.3 75.9h8.8M195.5 70.9v10.2M191.1 76.1h8.8M196.3 71.1v10.2M191.9 76.2h8.8M197 71.2v10.2M192.7 76.3h8.8M197.8 71.4v10.2M193.5 76.5h8.7M198.6 71.5v10.2M194.3 76.6h8.7M199.4 71.6v10.2M195.1 76.7h8.7M200.2 71.8v10.1M195.9 76.9h8.7M201 72.1v10.1M196.6 77.1h8.7M201.7 72.3v10.1M197.4 77.3h8.7M202.5 72.5v10.1M198.2 77.6h8.6M203.3 72.8v10.1M198.9 77.8h8.6M204 73v10.1M199.7 78h8.6M204.8 73.3v10M200.5 78.3h8.6M205.6 73.5v10M201.3 78.5h8.6M206.3 73.7v10M202 78.7h8.6M207.1 73.9v10M202.8 78.9h8.6M207.9 74.1v10M203.6 79.1h8.5M208.6 74.4v9.9M204.4 79.3h8.5M209.4 74.6v9.9M205.2 79.5h8.5M210.2 74.8v9.9M205.9 79.7h8.5M211 75v9.9M206.7 79.9h8.5M211.7 75.2v9.9M207.5 80.1h8.5M212.5 75.4v9.9M208.3 80.3h8.4M213.3 75.6v9.8M209.1 80.5h8.4M214.1 75.8v9.8M209.9 80.7h8.4M214.9 75.9v9.8M210.7 80.8h8.4M215.6 76v9.8M211.4 80.9h8.4M216.4 76.2v9.8M212.2 81.1h8.4M217.2 76.3v9.8M213 81.2h8.4M218 76.4v9.8M213.8 81.3h8.4M218.8 76.6v9.8M214.6 81.5h8.4M219.6 76.7v9.8M215.4 81.6h8.4M220.4 76.8v9.8M216.2 81.7h8.4M221.2 77v9.8M217 81.9h8.4M222 77.1v9.8M217.8 82h8.4M222.7 77.3v9.8M218.5 82.2h8.4M223.5 77.5v9.8M219.3 82.4h8.4M224.3 77.6v9.8M220.1 82.5h8.4M225.1 77.8v9.8M220.9 82.7h8.4M225.9 78v9.8M221.7 82.9h8.4M226.6 78.2v9.8M222.4 83.1h8.4M227.4 78.4v9.8M223.2 83.3h8.4M228.2 78.6v9.8M224 83.5h8.4M229 78.8v9.8M224.8 83.7h8.4M229.7 79v9.8M225.5 83.9h8.4M230.5 79.2v9.8M226.3 84.1h8.4M231.3 79.4v9.8M227.1 84.3h8.4M232 79.7v9.8M227.8 84.6h8.4M232.8 79.9v9.8M228.6 84.8h8.4M233.6 80.1v9.8M229.4 85h8.4M234.4 80.3v9.8M230.2 85.2h8.4M235.1 80.4v9.8M230.9 85.3h8.4M235.9 80.5v9.8M231.7 85.4h8.4M236.7 80.5v9.8M232.5 85.4h8.4M237.5 80.5v9.8M233.3 85.4h8.4M238.3 80.6v9.8M234.1 85.5h8.4M239.1 80.6v9.8M234.9 85.5h8.4M239.9 80.8v9.8M235.7 85.7h8.4M240.7 81v9.8M236.5 85.9h8.4M241.4 81.2v9.8M237.2 86.1h8.4M242.2 81.4v9.8M238 86.3h8.4M243 81.6v9.8M238.8 86.5h8.4M243.8 81.9v9.8M239.6 86.8h8.4M244.5 82.1v9.8M240.3 87h8.4M245.3 82.3v9.8M241.1 87.2h8.4M246.1 82.6v9.8M241.9 87.5h8.4M246.8 82.8v9.8M242.6 87.7h8.4M247.6 83.1v9.8M243.4 88h8.4M248.3 83.3v9.8M244.1 88.2h8.4M249.1 83.5v9.8M244.9 88.4h8.4M249.9 83.8v9.8M245.7 88.7h8.4M250.7 83.9v9.8M246.5 88.8h8.4M251.5 84v9.8M247.3 88.9h8.4M252.2 84.1v9.8M248 89h8.4M253 84.3v9.8M248.8 89.2h8.4M253.8 84.4v9.8M249.6 89.3h8.4M254.6 84.5v9.8M250.4 89.4h8.4M255.4 84.7v9.8M251.2 89.6h8.4M256.1 85v9.8M251.9 89.9h8.4M256.9 85.2v9.8M252.7 90.1h8.4M257.7 85.5v9.8M253.5 90.4h8.4M258.4 85.7v9.8M254.2 90.6h8.4M259.2 86v9.8M255 90.9h8.4M259.9 86.2v9.8M255.7 91.1h8.4M260.7 86.5v9.8M256.5 91.4h8.4M261.5 86.7v9.8M257.3 91.6h8.4M262.2 87v9.8M258 91.9h8.4M263 87.2v9.8M258.8 92.2h8.4M263.7 87.5v9.8M259.5 92.4h8.4M264.5 87.8v9.9M260.3 92.7h8.5M265.2 88v9.9M261 92.9h8.5M266 88.3v9.9M261.8 93.2h8.5M266.8 88.5v9.9M262.5 93.4h8.5M267.5 88.7v9.9M263.3 93.6h8.5M268.3 88.8v9.9M264.1 93.8h8.5M269.1 89v9.9M264.8 93.9h8.5M269.9 89.1v9.9M265.6 94.1h8.5M270.7 89.3v9.9M266.4 94.3h8.5M271.4 89.5v9.9M267.2 94.4h8.5M272.2 89.6v10M268 94.6h8.5M273 89.8v10M268.7 94.8h8.5M273.8 90v10M269.5 95h8.6M274.6 90.2v10M270.3 95.2h8.6M275.3 90.4v10M271 95.4h8.6M276.1 90.7v10M271.8 95.7h8.6M276.9 90.9v10M272.6 95.9h8.6M277.6 91.1v10M273.3 96.1h8.6M278.4 91.4v10M274.1 96.4h8.6M279.2 91.6v10.1M274.8 96.6h8.6M279.9 91.8v10.1M275.6 96.8h8.6M280.7 92v10.1M276.4 97.1h8.6M281.4 92.3v10.1M277.1 97.3h8.6M282.2 92.5v10.1M277.9 97.6h8.6M283 92.8v10.1M278.6 97.8h8.7M283.7 93v10.1M279.4 98.1h8.7M284.5 93.3v10.1M280.1 98.3h8.7M285.3 93.5v10.1M280.9 98.5h8.7M286 93.7v10.1M281.7 98.7h8.7M286.8 93.9v10.2M282.4 99h8.7M287.6 94.1v10.2M283.2 99.2h8.7M288.3 94.3v10.2M284 99.4h8.7M289.1 94.5v10.2M284.7 99.6h8.7M289.9 94.7v10.2M285.5 99.8h8.7M290.6 94.9v10.2M286.3 100h8.7M291.4 95.1v10.2M287 100.2h8.8M292.2 95.3v10.2M287.8 100.4h8.8M293 95.5v10.2M288.6 100.6h8.8M293.8 95.6v10.2M289.4 100.7h8.8M294.5 95.8v10.3M290.2 100.9h8.8M295.3 96v10.3M290.9 101.1h8.8M296.1 96.1v10.3M291.7 101.3h8.8M296.9 96.3v10.3M292.5 101.4h8.8M297.7 96.5v10.3M293.3 101.6h8.8M298.4 96.6v10.3M294 101.8h8.8M299.2 96.8v10.3M294.8 101.9h8.8M300 96.9v10.3M295.6 102.1h8.8M300.8 97.1v10.3M296.4 102.2h8.9M301.6 97.2v10.3M297.2 102.4h8.9M302.4 97.4v10.4M297.9 102.5h8.9M303.2 97.5v10.4M298.7 102.7h8.9M303.9 97.7v10.4M299.5 102.8h8.9M304.7 97.8v10.4M300.3 103h8.9M305.5 98v10.4M301.1 103.2h8.9M306.3 98.1v10.4M301.8 103.3h8.9M307.1 98.3v10.4M302.6 103.5h8.9M307.9 98.5v10.4M303.4 103.7h8.9M308.6 98.6v10.4M304.2 103.9h8.9M309.4 98.8v10.4M304.9 104h9M310.2 99v10.5M305.7 104.2h9M311 99.2v10.5M306.5 104.4h9M311.8 99.3v10.5M307.3 104.6h9M312.5 99.5v10.5M308 104.8h9M313.3 99.7v10.5M308.8 105h9M314.1 99.9v10.5M309.6 105.2h9M314.9 100.1v10.5M310.3 105.4h9M315.6 100.3v10.5M311.1 105.6h9M316.4 100.5v10.5M311.9 105.8h9M317.2 100.7v10.5M312.7 106h9M318 100.9v10.6M313.4 106.2h9M318.7 101.1v10.6M314.2 106.4h9.1M319.5 101.2v10.6M315 106.5h9.1M320.3 101.3v10.6M315.8 106.6h9.1M321.1 101.4v10.6M316.6 106.7h9.1M321.9 101.5v10.6M317.4 106.8h9.1M322.7 101.7v10.6M318.1 106.9h9.1M323.5 101.8v10.6M318.9 107.1h9.1M324.3 102v10.6M319.7 107.3h9.1M325 102.2v10.6M320.5 107.5h9.1M325.8 102.4v10.6M321.3 107.7h9.1M326.6 102.6v10.6M322.1 107.8h9.1M327.4 102.7v10.6M322.8 108h9.1M328.1 102.9v10.6M323.6 108.2h9.1M328.9 103v10.6M324.4 108.3h9.1M329.7 103.2v10.6M325.2 108.5h9.1M330.5 103.4v10.6M326 108.7h9.1M331.3 103.5v10.6M326.7 108.8h9.1M332.1 103.7v10.6M327.5 109h9.1M332.9 103.9v10.6M328.3 109.2h9.1M333.6 104.1v10.6M329.1 109.4h9.1M334.4 104.3v10.6M329.9 109.6h9.1M335.2 104.5v10.6M330.6 109.8h9.1M335.9 104.7v10.6M331.4 110h9.1M336.7 105v10.6M332.2 110.2h9.1M337.5 105.2v10.6M332.9 110.5h9.1M338.2 105.4v10.6M333.7 110.7h9.1M339 105.6v10.6M334.5 110.9h9.1M339.8 105.8v10.6M335.2 111.1h9.1M340.5 106v10.6M336 111.3h9.1M341.3 106.2v10.6M336.8 111.5h9.1M342.1 106.3v10.6M337.6 111.6h9.1M342.9 106.4v10.6M338.4 111.7h9.1M343.7 106.6v10.6M339.2 111.9h9.1M344.5 106.7v10.6M340 112h9.1M345.3 106.9v10.6M340.7 112.2h9.1M346.1 107.1v10.6M341.5 112.4h9.1M346.8 107.3v10.6M342.3 112.6h9.1M347.6 107.5v10.6M343.1 112.8h9.1M348.4 107.7v10.6M343.8 113h9.1M349.1 107.9v10.6M344.6 113.2h9.1M349.9 108.1v10.6M345.4 113.4h9.1M350.7 108.4v10.6M346.1 113.7h9.1M351.4 108.6v10.6M346.9 113.9h9.1M352.2 108.9v10.6M347.7 114.2h9.1M352.9 109.2v10.6M348.4 114.5h9.1M353.7 109.4v10.6M349.2 114.7h9.1M354.5 109.7v10.6M349.9 114.9h9.1M355.2 109.8v10.6M350.7 115.1h9.1M356 110v10.6M351.5 115.3h9.1M356.8 110.1v10.6M352.3 115.4h9.1M357.6 110.3v10.6M353.1 115.6h9.1M358.4 110.5v10.6M353.8 115.7h9.1M359.2 110.6v10.6M354.6 115.9h9.1M359.9 110.8v10.6M355.4 116.1h9.1M360.7 110.9v10.6M356.2 116.2h9.1M361.5 111.1v10.6M357 116.4h9.1M362.3 111.3v10.6M357.8 116.5h9.1M363.1 111.4v10.6M358.5 116.7h9.1M363.9 111.5v10.6M359.3 116.8h9.1M364.7 111.7v10.6M360.1 117h9.1M365.4 111.8v10.6M360.9 117.1h9.1M366.2 112v10.6M361.7 117.3h9.1M367 112.1v10.6M362.5 117.4h9.1M367.8 112.3v10.6M363.3 117.6h9.1M368.6 112.4v10.6M364 117.7h9.1M369.4 112.7v10.6M364.8 118h9.1M370.1 112.9v10.6M365.6 118.2h9.1M370.9 113.1v10.6M366.3 118.4h9.1M371.6 113.4v10.6M367.1 118.7h9.1M372.4 113.6v10.6M367.9 118.9h9.1M373.2 113.9v10.6M368.6 119.1h9.1M373.9 114.1v10.6M369.4 119.4h9.1M374.7 114.4v10.6M370.2 119.7h9.1M375.5 114.6v10.6M370.9 119.9h9.1M376.2 114.9v10.6M371.7 120.2h9.1M377 115.1v10.6M372.4 120.4h9.1M377.7 115.3v10.6M373.2 120.6h9.1M378.5 115.4v10.6M374 120.6h9.1M379.3 115.4v10.6M374.8 120.7h9.1M380.1 115.5v10.6M375.6 120.8h9.1M380.9 115.5v10.6M376.4 120.8h9.1M381.7 115.6v10.6M377.2 120.9h9.1M382.5 115.8v10.6M378 121.1h9.1M383.3 116v10.6M378.7 121.3h9.1M384 116.2v10.6M379.5 121.5h9.1M384.8 116.4v10.6M380.3 121.7h9.1M385.6 116.7v10.6M381 122h9.1M386.4 116.9v10.6M381.8 122.2h9.1M387.1 117.1v10.6M382.6 122.4h9.1M387.9 117.3v10.6M383.4 122.6h9.1M388.7 117.5v10.6M384.1 122.8h9.1M389.4 117.7v10.6M384.9 123h9.1M390.2 118v10.6M385.7 123.2h9.1M391 118.1v10.6M386.4 123.4h9.1M391.8 118.3v10.6M387.2 123.6h9.1M392.5 118.5v10.6M388 123.8h9.1M393.3 118.7v10.6M388.8 124h9.1M394.1 118.9v10.6M389.6 124.1h9.1M394.9 119v10.6M390.3 124.3h9.1M395.7 119.2v10.6M391.1 124.5h9.1M396.4 119.4v10.6M391.9 124.7h9.1M397.2 119.6v10.6M392.7 124.8h9.1M398 119.7v10.6M393.5 125h9.1M398.8 119.9v10.6M394.2 125.2h9.1M399.5 120.1v10.6M395 125.4h9.1M400.3 120.3v10.6M395.8 125.6h9.1M401.1 120.5v10.6M396.6 125.8h9.1M401.9 120.7v10.6M397.3 126h9.1M402.6 121v10.6M398.1 126.2h9.1M403.4 121.2v10.6M398.9 126.4h9.1M404.2 121.4v10.6M399.7 126.7h9.1M405 121.6v10.6M400.4 126.9h9.1M405.7 121.8v10.6M401.2 127.1h9.1M406.5 121.9v10.6M402 127.2h9.1M407.3 122.1v10.6M402.8 127.4h9.1M408.1 122.2v10.6M403.6 127.5h9.1M408.9 122.3v10.6M404.3 127.6h9.1M409.7 122.4v10.6M405.1 127.7h9.1M410.5 122.5v10.6M405.9 127.8h9.1M411.3 122.7v10.6M406.7 128h9.1M412 122.8v10.6M407.5 128.1h9.1M412.8 122.9v10.6M408.3 128.2h9.1M413.6 123v10.6M409.1 128.3h9.1M414.4 123.2v10.6M409.9 128.5h9.1M415.2 123.4v10.6M410.7 128.7h9.1M416 123.5v10.6M411.4 128.8h9.1M416.8 123.7v10.6M412.2 129h9.1M417.5 123.9v10.6M413 129.2h9.1M418.3 124v10.6M413.8 129.3h9.1M419.1 124.2v10.6M414.6 129.5h9.1M419.9 124.4v10.6M415.3 129.7h9.1M420.6 124.7v10.6M416.1 130h9.1M421.4 124.9v10.6M416.9 130.2h9.1M422.2 125.1v10.6M417.7 130.4h9.1M423 125.3v10.6M418.4 130.6h9.1M423.7 125.5v10.6M419.2 130.8h9.1M424.5 125.7v10.6M420 131h9.1M425.3 125.9v10.6M420.7 131.2h9.1M426 126.2v10.6M421.5 131.4h9.1M426.8 126.3v10.6M422.3 131.6h9.1M427.6 126.5v10.6M423.1 131.8h9.1M428.4 126.6v10.6M423.9 131.9h9.1M429.2 126.8v10.6M424.6 132.1h9.1M430 127v10.6M425.4 132.3h9.1M430.7 127.1v10.6M426.2 132.4h9.1M431.5 127.3v10.6M427 132.6h9.1M432.3 127.5v10.6M427.8 132.8h9.1M433.1 127.6v10.6M428.6 132.9h9.1M433.9 127.9v10.6M429.3 133.2h9.1M434.6 128.1v10.6M430.1 133.4h9.1M435.4 128.4v10.6M430.9 133.7h9.1M436.1 128.6v10.6M431.6 133.9h9.1M436.9 128.9v10.6M432.4 134.2h9.1M437.7 129.1v10.6M433.1 134.4h9.1M438.4 129.3v10.6M433.9 134.6h9.1M439.2 129.5v10.6M434.7 134.8h9.1M440 129.7v10.6M435.4 135h9.1M440.8 129.9v10.6M436.2 135.2h9.1M441.5 130.1v10.6M437 135.4h9.1M442.3 130.3v10.6M437.8 135.5h9.1M443.1 130.4v10.6M438.6 135.7h9.1M443.9 130.6v10.6M439.3 135.9h9.1M444.7 130.8v10.6M440.1 136.1h9.1M445.4 131v10.6M440.9 136.3h9.1M446.2 131.2v10.6M441.7 136.5h9.1M447 131.4v10.6M442.5 136.7h9.1M447.8 131.5v10.6M443.2 136.8h9.1M448.5 131.7v10.6M444 137h9.1M449.3 131.9v10.6M444.8 137.2h9.1M450.1 132.1v10.6M445.6 137.4h9.1M450.9 132.3v10.6M446.3 137.6h9.1M451.7 132.4v10.6M447.1 137.7h9.1M452.4 132.6v10.6M447.9 137.9h9.1M453.2 132.8v10.6M448.7 138.1h9.1M454 133v10.6M449.5 138.3h9.1M454.8 133.1v10.6M450.3 138.4h9.1M455.6 133.2v10.6M451 138.5h9.1M456.4 133.4v10.6M451.8 138.7h9.1M457.2 133.5v10.6M452.6 138.8h9.1M457.9 133.6v10.6M453.4 138.9h9.1M458.7 133.8v10.6M454.2 139.1h9.1M459.5 133.9v10.6M455 139.2h9.1M460.3 134v10.6M455.8 139.3h9.1M461.1 134.2v10.6M456.6 139.5h9.1M461.9 134.4v10.6M457.3 139.7h9.1M462.6 134.7v10.6M458.1 140h9.1M463.4 134.9v10.6M458.9 140.2h9.1M464.2 135.2v10.6M459.6 140.4h9.1M464.9 135.4v10.6M460.4 140.7h9.1M465.7 135.6v10.6M461.1 140.9h9.1M466.4 135.9v10.6M461.9 141.2h9.1M467.2 136.1v10.6M462.7 141.4h9.1M468 136.3v10.6M463.5 141.5h9.1M468.8 136.4v10.6M464.2 141.7h9.1M469.6 136.6v10.6M465 141.9h9.1M470.3 136.8v10.6M465.8 142.1h9.1M471.1 137v10.6M466.6 142.3h9.1M471.9 137.2v10.6M467.3 142.5h9.1M472.6 137.5v10.6M468.1 142.8h9.1M473.4 137.7v10.6M468.9 143h9.1M474.2 138v10.6M469.6 143.3h9.1M474.9 138.3v10.6M470.4 143.6h9.1M475.7 138.5v10.6M471.1 143.8h9.1M476.4 138.8v10.6M471.9 144.1h9.1M477.2 139.1v10.6M472.6 144.4h9.1M477.9 139.3v10.6M473.4 144.6h9.1M478.7 139.6v10.6M474.1 144.9h9.1M479.4 139.9v10.6M474.9 145.2h9.1M480.2 140.2v10.6M475.6 145.4h9.1M480.9 140.4v10.6M476.4 145.7h9.1M481.7 140.7v10.6M477.1 146h9.1M482.4 141v10.6M477.9 146.3h9.1M483.2 141.2v10.6M478.7 146.5h9.1M484 141.3v10.6M479.4 146.6h9.1M484.8 141.5v10.6M480.2 146.8h9.1M485.5 141.7v10.6M481 147h9.1M486.3 141.9v10.6M481.8 147.2h9.1M487.1 142.1v10.6M482.6 147.4h9.1M487.9 142.3v10.6M483.3 147.5h9.1M488.7 142.4v10.6M484.1 147.7h9.1M489.4 142.6v10.6M484.9 147.9h9.1M490.2 142.8v10.6M485.7 148.1h9.1M491 143v10.6M486.5 148.3h9.1M491.8 143.2v10.6M487.2 148.5h9.1M492.5 143.4v10.6M488 148.7h9.1M493.3 143.5v10.6M488.8 148.8h9.1M494.1 143.7v10.6M489.6 149h9.1M494.9 143.9v10.6M490.3 149.2h9.1M495.7 144.1v10.6M491.1 149.4h9.1M496.4 144.3v10.6M491.9 149.6h9.1M497.2 144.4v10.6M492.7 149.7h9.1M498 144.5v10.6M493.5 149.8h9.1M498.8 144.6v10.6M494.3 149.9h9.1M499.6 144.7v10.6M495.1 150h9.1M500.4 144.8v10.6M495.9 150.1h9.1M501.2 144.9v10.6M496.7 150.2h9.1M502 145v10.6M497.5 150.3h9.1M502.8 145.2v10.6M498.2 150.5h9.1M503.5 145.4v10.6M499 150.7h9.1M504.3 145.6v10.6M499.8 150.9h9.1M505.1 145.8v10.6M500.5 151.1h9.1M505.9 146v10.6M501.3 151.3h9.1M506.6 146.2v10.6M502.1 151.5h9.1M507.4 146.5v10.6M502.9 151.7h9.1M508.1 146.7v10.6M503.6 152h9.1M508.9 147v10.6M504.4 152.3h9.1M509.7 147.2v10.6M505.1 152.5h9.1M510.4 147.5v10.6M505.9 152.8h9.1M511.2 147.8v10.6M506.6 153.1h9.1M511.9 148v10.6M507.4 153.3h9.1M512.7 148.2v10.6M508.2 153.5h9.1M513.5 148.4v10.6M508.9 153.7h9.1M514.2 148.7v10.6M509.7 154h9.1M515 148.9v10.6M510.5 154.2h9.1M515.8 149.1v10.6M511.2 154.4h9.1M516.5 149.3v10.6M512 154.6h9.1M517.3 149.6v10.6M512.8 154.8h9.1M518.1 149.8v10.6M513.5 155.1h9.1M518.8 150v10.6M514.3 155.3h9.1M519.6 150.2v10.6M515.1 155.5h9.1M520.4 150.4v10.6M515.9 155.6h9.1M521.2 150.5v10.6M516.6 155.8h9.1M522 150.7v10.6M517.4 156h9.1M522.7 150.8v10.6M518.2 156.1h9.1M523.5 151v10.6M519 156.3h9.1M524.3 151.2v10.6M519.8 156.5h9.1M525.1 151.3v10.6M520.6 156.6h9.1M525.9 151.5v10.6M521.3 156.8h9.1M526.7 151.6v10.6M522.1 156.9h9.1M527.5 151.7v10.6M522.9 157h9.1M528.3 151.9v10.6M523.7 157.2h9.1M529 152v10.6M524.5 157.3h9.1M529.8 152.1v10.6M525.3 157.4h9.1M530.6 152.3v10.6M526.1 157.6h9.1M531.4 152.4v10.6M526.9 157.7h9.1M532.2 152.5v10.6M527.7 157.8h9.1M533 152.7v10.6M528.5 158h9.1M533.7 153v10.6M529.2 158.3h9.1M534.5 153.3v10.6M530 158.6h9.1M535.3 153.5v10.6M530.7 158.8h9.1M536 153.8v10.6M531.5 159.1h9.1M536.8 154v10.6M532.2 159.3h9.1M537.5 154.3v10.6M533 159.6h9.1M538.3 154.6v10.6M533.7 159.9h9.1M539 154.8v10.6M534.5 160.1h9.1M539.8 155v10.6M535.3 160.3h9.1M540.6 155.2v10.6M536 160.5h9.1M541.4 155.3v10.6M536.8 160.6h9.1M542.1 155.5v10.6M537.6 160.8h9.1M542.9 155.7v10.6M538.4 161h9.1M543.7 155.8v10.6M539.2 161.1h9.1M544.5 156v10.6M540 161.3h9.1M545.3 156.2v10.6M540.7 161.5h9.1M546.1 156.3v10.6M541.5 161.6h9.1M546.8 156.5v10.6M542.3 161.8h9.1M547.6 156.6v10.6M543.1 161.9h9.1M548.4 156.7v10.6M543.9 162h9.1M549.2 156.8v10.6M544.7 162.1h9.1M550 156.9v10.6M545.5 162.2h9.1M550.8 157.1v10.6M546.3 162.3h9.1M551.6 157.2v10.6M547.1 162.5h9.1M552.4 157.3v10.6M547.8 162.6h9.1M553.2 157.5v10.6M548.6 162.8h9.1M553.9 157.7v10.6M549.4 162.9h9.1M554.7 157.8v10.6M550.2 163.1h9.1M555.5 158v10.6M551 163.3h9.1M556.3 158.2v10.6M551.7 163.5h9.1M557.1 158.4v10.6M552.5 163.7h9.1M557.8 158.6v10.6M553.3 163.9h9.1M558.6 158.8v10.6M554.1 164.1h9.1M559.4 159v10.6M554.8 164.3h9.1M560.2 159.2v10.6M555.6 164.5h9.1M560.9 159.5v10.6M556.4 164.8h9.1M561.7 159.8v10.6M557.1 165.1h9.1M562.4 160.1v10.6M557.9 165.3h9.1M563.2 160.3v10.6M558.6 165.6h9.1M563.9 160.6v10.6M559.4 165.9h9.1M564.7 160.9v10.6M560.1 166.2h9.1M565.4 161.2v10.6M560.9 166.4h9.1M566.2 161.4v10.6M561.6 166.7h9.1M566.9 161.7v10.6M562.4 167h9.1M567.7 161.9v10.6M563.1 167.2h9.1M568.5 162.1v10.6M563.9 167.4h9.1M569.2 162.2v10.6M564.7 167.5h9.1M570 162.4v10.6M565.5 167.7h9.1M570.8 162.5v10.6M566.3 167.8h9.1M571.6 162.7v10.6M567.1 168h9.1M572.4 162.9v10.6M567.8 168.1h9.1M573.2 163v10.6M568.6 168.3h9.1M573.9 163.3v10.6M569.4 168.6h9.1M574.7 163.5v10.6M570.1 168.8h9.1M575.4 163.8v10.6M570.9 169.1h9.1M576.2 164v10.6M571.7 169.3h9.1M577 164.3v10.6M572.4 169.6h9.1M577.7 164.5v10.6M573.2 169.8h9.1M578.5 164.8v10.6M574 170.1h9.1M579.2 165v10.6M574.7 170.3h9.1M580 165.3v10.6M575.5 170.6h9.1M580.8 165.5v10.6M576.2 170.8h9.1M581.5 165.7v10.6M577 171h9.1M582.3 165.8v10.6M577.8 171.1h9.1M583.1 166v10.6M578.6 171.3h9.1M583.9 166.1v10.6M579.4 171.4h9.1M584.7 166.2v10.6M580.1 171.5h9.1M585.5 166.4v10.6M580.9 171.7h9.1M586.2 166.7v10.6M581.7 172h9.1M586.9 167.1v10.6M582.4 172.3h9.1M587.7 167.4v10.6M583.1 172.7h9.1M588.4 167.7v10.6M583.8 173h9.1M589.1 168.1v10.6M584.6 173.3h9.1M589.8 168.4v10.6M585.3 173.7h9.1M590.6 168.5v10.6M586.1 173.8h9.1M591.4 168.7v10.6M586.9 174h9.1M592.2 168.8v10.6M587.7 174.1h9.1M593 169v10.6M588.4 174.3h9.1M593.8 169.2v10.6M589.2 174.5h9.1M594.5 169.3v10.6M590 174.6h9.1M595.3 169.5v10.6M590.8 174.8h9.1M596.1 169.6v10.6M591.6 174.9h9.1M596.9 169.8v10.6M592.4 175.1h9.1M597.7 170v10.6M593.1 175.3h9.1M598.4 170.3v10.6M593.9 175.6h9.1M599.2 170.6v10.6M594.6 175.9h9.1M599.9 170.9v10.6M595.4 176.2h9.1M600.6 171.2v10.6M596.1 176.5h9.1M601.4 171.5v10.6M596.9 176.8h9M602.1 171.8v10.5M597.6 177.1h9M602.9 172.1v10.5M598.4 177.4h9M603.6 172.4v10.5M599.1 177.7h9M604.4 172.8v10.5M599.9 178h9M605.1 173v10.5M600.6 178.2h9M605.9 173.2v10.5M601.4 178.4h9M606.7 173.4v10.5M602.2 178.6h9M607.5 173.5v10.4M603 178.7h8.9M608.2 173.7v10.4M603.8 178.9h8.9M609 173.9v10.4M604.6 179.1h8.9M609.8 174.1v10.4M605.3 179.3h8.9M610.6 174.2v10.4M606.1 179.4h8.9M611.4 174.4v10.4M606.9 179.6h8.9M612.1 174.6v10.3M607.7 179.8h8.9M612.9 174.8v10.3M608.5 180h8.9M613.7 175v10.3M609.3 180.2h8.8M614.5 175.3v10.3M610 180.4h8.8M615.2 175.5v10.3M610.8 180.6h8.8M616 175.7v10.3M611.6 180.8h8.8M616.8 175.9v10.3M612.4 181h8.8M617.6 176.1v10.2M613.2 181.2h8.8M618.3 176.5v10.2M613.9 181.6h8.8M619 176.8v10.2M614.7 181.9h8.8M619.8 177.2v10.2M615.4 182.3h8.7M620.5 177.6v10.2M616.1 182.7h8.7M621.2 177.9v10.2M616.8 183h8.7M621.9 178.2v10.2M617.5 183.2h8.7M622.7 178.4v10.1M618.3 183.4h8.7M623.5 178.5v10.1M619.1 183.6h8.7M624.2 178.7v10.1M619.9 183.8h8.7M625 178.9v10.1M620.7 184h8.7M625.8 179.1v10.1M621.5 184.1h8.6M626.6 179.3v10.1M622.3 184.3h8.6M627.4 179.5v10M623.1 184.5h8.6M628.1 179.7v10M623.8 184.7h8.6M628.9 179.9v10M624.6 184.9h8.6M629.7 180.1v10M625.4 185.1h8.6M630.5 180.3v10M626.2 185.3h8.6M631.2 180.5v10M627 185.5h8.5M632 180.7v10M627.7 185.7h8.5M632.8 180.9v9.9M628.5 185.9h8.5M633.6 181.1v9.9M629.3 186.1h8.5M634.3 181.3v9.9M630.1 186.3h8.5M635.1 181.5v9.9M630.9 186.5h8.5M635.9 181.7v9.9M631.7 186.7h8.5M636.7 181.9v9.9M632.4 186.9h8.5M637.4 182.2v9.9M633.2 187.1h8.4M638.2 182.4v9.8M634 187.3h8.4M639 182.6v9.8M634.8 187.5h8.4M639.7 182.8v9.8M635.5 187.7h8.4M640.5 183.2v9.8M636.3 188.1h8.4M641.2 183.6v9.8M637 188.5h8.4M641.9 184v9.8M637.7 188.9h8.4M642.6 184.4v9.8M638.4 189.3h8.4M643.3 184.7v9.8M639.1 189.6h8.4M644.1 184.7v9.8M639.9 189.6h8.4M644.9 184.7v9.8M640.7 189.6h8.4M645.7 184.8v9.8M641.5 189.7h8.4M646.5 184.8v9.8M642.3 189.7h8.4M647.3 184.8v9.8M643.1 189.7h8.4M648.1 184.8v9.8M643.9 189.7h8.4M648.9 184.9v9.8M644.7 189.8h8.4M649.7 184.9v9.8M645.5 189.8h8.4M650.5 184.9v9.8M646.3 189.8h8.4M651.3 184.9v9.8M647.1 189.8h8.4M652.1 184.9v9.8M647.9 189.8h8.4M652.9 185v9.8M648.7 189.9h8.4M653.7 185v9.8M649.5 189.9h8.4M654.5 185v9.8M650.3 189.9h8.4M655.5 185v9.8M651.3 189.9h8.4M656.5 185.1v9.8M652.3 190h8.4M657.5 185.1v9.8M653.3 190h8.4M658.3 185.4v9.8M654.1 190.3h8.4M659.6 186.1v9.8M655.4 191h8.4M660.4 186.1v9.8M656.2 191h8.4M661.2 186.1v9.8M657 191h8.4M662.2 186.1v9.8M658 191h8.4M663.2 186.1v9.8M659 191h8.4M664.2 186.1v9.8M660 191h8.4M665.2 186.1v9.8M661 191h8.4M666.2 186.1v9.8M662 191h8.4M667.2 186.1v9.8M663 191h8.4M668.5 186.1v9.8M664.3 191h8.4M669.9 186.1v9.8M665.7 191h8.4M671.7 186.1v9.8M667.5 191h8.4M672.8 186.1v9.8M668.6 191h8.4M674.2 186.7v9.8M670 191.6h8.4M676 189.1v9.8M671.8 194h8.4M678.3 189.1v9.8M674.1 194h8.4M680.1 189.1v9.8M675.9 194h8.4M681 189.1v9.8M676.8 194h8.4M682.1 189.1v9.8M677.9 194h8.4M683.2 189.1v9.8M679 194h8.4M684.1 189.1v9.8M679.9 194h8.4M685.2 189.1v9.8M681 194h8.4M687.5 193.1v9.8M683.3 198h8.4M689.3 193.1v9.8M685.1 198h8.4M691.6 197.7v9.8M687.4 202.6h8.4M692.7 197.7v9.8M688.5 202.6h8.4M694.5 197.7v9.8M690.3 202.6h8.4M695.9 197.7v9.8M691.7 202.6h8.4M697.7 197.7v9.8M693.5 202.6h8.4M699.5 197.7v9.8M695.3 202.6h8.4M700.6 197.7v9.8M696.4 202.6h8.4M703.5 200.8v9.8M699.3 205.7h8.4M704.5 200.8v9.8M700.3 205.7h8.4M705.6 200.8v9.8M701.4 205.7h8.4M706.8 200.8v9.8M702.6 205.7h8.4M708 200.8v9.8M703.8 205.7h8.4M709 200.8v9.8M704.8 205.7h8.4M710.2 200.8v9.8M706 205.7h8.4M711.5 200.8v9.8M707.3 205.7h8.4M712.6 200.8v9.8M708.4 205.7h8.4M714 200.8v9.8M709.8 205.7h8.4M715 200.8v9.8M710.8 205.7h8.4M716.4 200.8v9.8M712.2 205.7h8.4M717.6 200.8v9.8M713.4 205.7h8.4M719 200.8v9.8M714.8 205.7h8.4M720.2 200.8v9.8M716 205.7h8.4M721.6 200.8v9.8M717.4 205.7h8.4M723 200.8v9.8M718.8 205.7h8.4M724.4 200.8v9.8M720.2 205.7h8.4M725.6 200.8v9.8M721.4 205.7h8.4M727 200.8v9.8M722.8 205.7h8.4M728.5 200.8v9.8M724.3 205.7h8.4M732 200.8v9.8M727.8 205.7h8.4M733.2 200.8v9.8M729 205.7h8.4M734.5 200.8v9.8M730.3 205.7h8.4M737 200.8v9.8M732.8 205.7h8.4M738.2 200.8v9.8M734 205.7h8.4M739.5 200.8v9.8M735.3 205.7h8.4M742 200.8v9.8M737.8 205.7h8.4M744 200.8v9.8M739.8 205.7h8.4M745.8 200.8v9.8M741.6 205.7h8.4" stroke-width="1.1"/>
</g>
<g fill="none" stroke="#08735f">
<path d="M112 50.5L113 54L115 59L119 64L122.5 69.5L125.5 74L127.2 76.2L138.8 88.8L151.2 100.6L153.8 102.7L162.5 111.4L175 124L187.5 132.6L200 141L212.5 148.3L225 154.5L240 163.5L245 166.4L249 166.4L249 169.8L252.1 169.8L252.1 171.4L257.6 171.4L257.6 175.1L260.4 175.1L260.4 175.8L265.3 175.8L265.3 178.4L269.4 178.4L269.4 180.1L272.2 180.1L272.2 181L277 181L277 183.5L279.7 183.5L279.7 184.1L284.1 184.1L284.1 185.9L286.9 185.9L286.9 186.6L289.8 186.6L289.8 187.6L294.2 187.6L294.2 189.3L300.5 189.3L300.5 191.7L303.5 191.7L303.5 192.1L307 192.1L307 193.4L312.4 193.4L312.4 195.4L319.1 195.4L319.1 197.9L324.2 197.9L324.2 199.4L328.5 199.4L328.5 200.7L335.4 200.7L335.4 203.6L338.1 203.6L338.1 203.8L344.5 203.8L344.5 206.3L348.3 206.3L348.3 207.1L351.4 207.1L351.4 207.9L354.4 207.9L354.4 208.8L358.3 208.8L358.3 210.1L364.5 210.1L364.5 211.9L367.8 211.9L367.8 212.4L372.9 212.4L372.9 213.9L378.3 213.9L378.3 215.3L382.5 215.3L382.5 216.1L387.5 216.1L387.5 217.5L390.2 217.5L390.2 217.9L393 217.9L393 218.6L396.4 218.6L396.4 219.5L402 219.5L402 221.7L406.4 221.7L406.4 223L410.3 223L410.3 224.3L415.5 224.3L415.5 226.3L420 226.3L420 227.8L423.9 227.8L423.9 229L429.9 229L429.9 231.5L435.6 231.5L435.6 233.4L439.2 233.4L439.2 234.3L444.3 234.3L444.3 236L449.1 236L449.1 237.5L455.6 237.5L455.6 239.6L461.3 239.6L461.3 241.1L465.1 241.1L465.1 241.8L472 241.8L472 243.9L475.1 243.9L475.1 244.1L479.5 244.1L479.5 245.5L485.4 245.5L485.4 247.5L488.6 247.5L488.6 248L493.3 248L493.3 248.2L495.9 248.2L495.9 248.2L501.4 248.2L501.4 248.1L507.4 248.1L507.4 247.8L512.5 247.8L512.5 248.6L518.9 248.6L518.9 250.2L522.8 250.2L522.8 250.5L528.4 250.5L528.4 251.1L533.6 251.1L533.6 251.4L538.7 251.4L538.7 251.6L543.3 251.6L543.3 251.6L549.6 251.6L549.6 251.6L556.3 251.6L556.3 251.6L560.9 251.6L560.9 251.6L566.4 251.6L566.4 251.6L569.2 251.6L569.2 251.6L572 251.6L572 251.6L574 251.6L582 256L743.5 255.7" stroke-width="1.8" stroke-linejoin="miter" stroke-miterlimit="2"/>
<path d="M112 46.3v8.3M108.4 50.5h7.1M113.3 50.6v8.3M109.7 54.7h7.1M114.6 53.8v8.3M111 58h7.1M115.5 55.5v8.3M111.9 59.6h7.1M116.8 57.1v8.3M113.2 61.2h7.1M118.5 59.2v8.3M114.9 63.4h7.1M119.4 60.5v8.3M115.8 64.6h7.1M121.1 63.1v8.3M117.5 67.3h7.1M122.4 65.2v8.3M118.8 69.3h7.1M124.1 67.7v8.3M120.5 71.9h7.1M125.8 70.2v8.3M122.2 74.4h7.1M127.1 72v8.3M123.5 76.1h7.1M128 73v8.3M124.4 77.1h7.1M130.3 75.4v8.3M126.7 79.6h7.1M132.6 77.9v8.3M129 82.1h7.1M134.9 80.4v8.3M131.3 84.6h7.1M136.2 81.8v8.3M132.6 86h7.1M138.5 84.3v8.3M134.9 88.5h7.1M140.2 86v8.3M136.6 90.1h7.1M141.9 87.6v8.3M138.3 91.7h7.1M142.8 88.4v8.3M139.2 92.6h7.1M145.1 90.6v8.3M141.5 94.8h7.1M146.8 92.2v8.3M143.2 96.4h7.1M148.5 93.8v8.3M144.9 98h7.1M149.8 95.1v8.3M146.2 99.2h7.1M151.1 96.3v8.3M147.5 100.5h7.1M152 97.1v8.3M148.4 101.2h7.1M153.7 98.5v8.3M150.1 102.7h7.1M155 99.8v8.3M151.4 103.9h7.1M157.3 102.1v8.3M153.7 106.2h7.1M159.6 104.4v8.3M156 108.5h7.1M161.9 106.6v8.4M158.3 110.8h7.2M164.2 108.8v8.6M160.5 113.1h7.4M165.9 110.5v8.7M162.2 114.8h7.4M166.8 111.4v8.7M163.1 115.7h7.5M168.1 112.6v8.8M164.3 117h7.5M169 113.5v8.9M165.2 118h7.6M171.3 115.8v9M167.4 120.3h7.7M173.6 118v9.1M169.7 122.6h7.8M175.9 120v9.3M171.9 124.6h7.9M176.8 120.6v9.3M172.8 125.2h8M177.7 121.2v9.4M173.7 125.9h8M180 122.7v9.5M175.9 127.4h8.1M182.3 124.2v9.6M178.2 129h8.3M184.6 125.7v9.8M180.4 130.6h8.4M185.9 126.6v9.8M181.7 131.5h8.4M186.8 127.2v9.8M182.6 132.1h8.4M188.1 128.1v9.8M183.9 133h8.4M189.4 129v9.8M185.2 133.9h8.4M190.7 129.9v9.8M186.5 134.8h8.4M191.6 130.5v9.8M187.4 135.4h8.4M193.9 132v9.8M189.7 136.9h8.4M194.8 132.6v9.8M190.6 137.5h8.4M195.7 133.2v9.8M191.5 138.1h8.4M196.6 133.8v9.8M192.4 138.7h8.4M197.9 134.7v9.8M193.7 139.6h8.4M199.2 135.6v9.8M195 140.5h8.4M200.1 136.2v9.8M195.9 141.1h8.4M201.8 137.2v9.8M197.6 142.1h8.4M203.1 137.9v9.8M198.9 142.8h8.4M204.8 138.9v9.8M200.6 143.8h8.4M207.1 140.2v9.8M202.9 145.1h8.4M208 140.8v9.8M203.8 145.7h8.4M208.9 141.3v9.8M204.7 146.2h8.4M209.8 141.8v9.8M205.6 146.7h8.4M211.5 142.8v9.8M207.3 147.7h8.4M212.8 143.5v9.8M208.6 148.4h8.4M215.1 144.7v9.8M210.9 149.6h8.4M216.4 145.3v9.8M212.2 150.2h8.4M217.4 145.8v9.8M213.2 150.7h8.4M218.2 146.2v9.8M214 151.1h8.4M219 146.6v9.8M214.8 151.5h8.4M220.3 147.3v9.8M216.1 152.2h8.4M222.1 148.2v9.8M217.9 153.1h8.4M223.4 148.8v9.8M219.2 153.7h8.4M224.7 149.5v9.8M220.5 154.4h8.4M225.7 150v9.8M221.5 154.9h8.4M227.5 151.1v9.8M223.3 156h8.4M228.5 151.7v9.8M224.3 156.6h8.4M229.5 152.3v9.8M225.3 157.2h8.4M230.3 152.8v9.8M226.1 157.7h8.4M232.1 153.9v9.8M227.9 158.8h8.4M233.4 154.6v9.8M229.2 159.5h8.4M234.2 155.1v9.8M230 160h8.4M235 155.6v9.8M230.8 160.5h8.4M236 156.2v9.8M231.8 161.1h8.4M237.8 157.3v9.8M233.6 162.2h8.4M239.6 158.4v9.8M235.4 163.3h8.4M240.4 158.8v9.8M236.2 163.7h8.4M241.7 159.6v9.8M237.5 164.5h8.4M242.7 160.2v9.8M238.5 165.1h8.4M244.5 161.2v9.8M240.3 166.1h8.4M245.8 161.5v9.8M241.6 166.4h8.4M246.8 161.5v9.8M242.6 166.4h8.4M248.6 161.5v9.8M244.4 166.4h8.4M249.4 164.9v9.8M245.2 169.8h8.4M250.7 164.9v9.8M246.5 169.8h8.4M252.5 166.5v9.8M248.3 171.4h8.4M253.8 166.5v9.8M249.6 171.4h8.4M255.6 166.5v9.8M251.4 171.4h8.4M256.6 166.5v9.8M252.4 171.4h8.4M257.4 166.5v9.8M253.2 171.4h8.4M258.7 170.2v9.8M254.5 175.1h8.4M259.5 170.2v9.8M255.3 175.1h8.4M260.5 170.9v9.8M256.3 175.8h8.4M262.3 170.9v9.8M258.1 175.8h8.4M263.3 170.9v9.8M259.1 175.8h8.4M264.6 170.9v9.8M260.4 175.8h8.4M265.6 173.5v9.8M261.4 178.4h8.4M266.6 173.5v9.8M262.4 178.4h8.4M268.4 173.5v9.8M264.2 178.4h8.4M269.4 173.5v9.8M265.2 178.4h8.4M270.7 175.2v9.8M266.5 180.1h8.4M272 175.2v9.8M267.8 180.1h8.4M272.8 176.1v9.8M268.6 181h8.4M274.6 176.1v9.8M270.4 181h8.4M275.6 176.1v9.8M271.4 181h8.4M276.6 176.1v9.8M272.4 181h8.4M278.4 178.6v9.8M274.2 183.5h8.4M280.2 179.2v9.8M276 184.1h8.4M281 179.2v9.8M276.8 184.1h8.4M282 179.2v9.8M277.8 184.1h8.4M283.8 179.2v9.8M279.6 184.1h8.4M284.6 181v9.8M280.4 185.9h8.4M285.6 181v9.8M281.4 185.9h8.4M286.4 181v9.8M282.2 185.9h8.4M287.4 181.7v9.8M283.2 186.6h8.4M289.2 181.7v9.8M285 186.6h8.4M290 182.7v9.8M285.8 187.6h8.4M290.8 182.7v9.8M286.6 187.6h8.4M291.8 182.7v9.8M287.6 187.6h8.4M293.6 182.7v9.8M289.4 187.6h8.4M295.4 184.4v9.8M291.2 189.3h8.4M296.7 184.4v9.8M292.5 189.3h8.4M297.5 184.4v9.8M293.3 189.3h8.4M298.3 184.4v9.8M294.1 189.3h8.4M299.3 184.4v9.8M295.1 189.3h8.4M300.6 186.8v9.8M296.4 191.7h8.4M301.8 186.8v9.8M297.6 191.7h8.4M303 186.8v9.8M298.8 191.7h8.4M305.2 187.2v9.8M301 192.1h8.4M306.1 187.2v9.8M301.9 192.1h8.4M307.7 188.5v9.8M303.5 193.4h8.4M309.9 188.5v9.8M305.7 193.4h8.4M311.5 188.5v9.8M307.3 193.4h8.4M313.1 190.5v9.8M308.9 195.4h8.4M315.3 190.5v9.8M311.1 195.4h8.4M316.5 190.5v9.8M312.3 195.4h8.4M317.4 190.5v9.8M313.2 195.4h8.4M318.3 190.5v9.8M314.1 195.4h8.4M319.2 193v9.8M315 197.9h8.4M320.8 193v9.8M316.6 197.9h8.4M321.7 193v9.8M317.5 197.9h8.4M323.3 193v9.8M319.1 197.9h8.4M325.5 194.5v9.8M321.3 199.4h8.4M326.4 194.5v9.8M322.2 199.4h8.4M327.6 194.5v9.8M323.4 199.4h8.4M329.8 195.8v9.8M325.6 200.7h8.4M331.4 195.8v9.8M327.2 200.7h8.4M333 195.8v9.8M328.8 200.7h8.4M335.2 195.8v9.8M331 200.7h8.4M336.1 198.7v9.8M331.9 203.6h8.4M337 198.7v9.8M332.8 203.6h8.4M339.2 198.9v9.8M335 203.8h8.4M340.4 198.9v9.8M336.2 203.8h8.4M342 198.9v9.8M337.8 203.8h8.4M344.2 198.9v9.8M340 203.8h8.4M345.4 201.4v9.8M341.2 206.3h8.4M347 201.4v9.8M342.8 206.3h8.4M348.6 202.2v9.8M344.4 207.1h8.4M350.8 202.2v9.8M346.6 207.1h8.4M351.7 203v9.8M347.5 207.9h8.4M353.9 203v9.8M349.7 207.9h8.4M355.1 203.9v9.8M350.9 208.8h8.4M357.3 203.9v9.8M353.1 208.8h8.4M358.2 203.9v9.8M354 208.8h8.4M360.4 205.2v9.8M356.2 210.1h8.4M361.3 205.2v9.8M357.1 210.1h8.4M363.5 205.2v9.8M359.3 210.1h8.4M364.4 205.2v9.8M360.2 210.1h8.4M365.3 207v9.8M361.1 211.9h8.4M366.9 207v9.8M362.7 211.9h8.4M368.1 207.5v9.8M363.9 212.4h8.4M369 207.5v9.8M364.8 212.4h8.4M370.6 207.5v9.8M366.4 212.4h8.4M372.2 207.5v9.8M368 212.4h8.4M373.8 209v9.8M369.6 213.9h8.4M375.4 209v9.8M371.2 213.9h8.4M376.3 209v9.8M372.1 213.9h8.4M377.9 209v9.8M373.7 213.9h8.4M379.5 210.4v9.8M375.3 215.3h8.4M381.1 210.4v9.8M376.9 215.3h8.4M382.7 211.2v9.8M378.5 216.1h8.4M383.6 211.2v9.8M379.4 216.1h8.4M384.5 211.2v9.8M380.3 216.1h8.4M385.4 211.2v9.8M381.2 216.1h8.4M386.6 211.2v9.8M382.4 216.1h8.4M387.5 212.6v9.8M383.3 217.5h8.4M389.7 212.6v9.8M385.5 217.5h8.4M391.9 213v9.8M387.7 217.9h8.4M394.1 213.7v9.8M389.9 218.6h8.4M395.7 213.7v9.8M391.5 218.6h8.4M397.9 214.6v9.8M393.7 219.5h8.4M400.1 214.6v9.8M395.9 219.5h8.4M401.3 214.6v9.8M397.1 219.5h8.4M403.7 216.8v9.8M399.5 221.7h8.4M404.9 216.8v9.8M400.7 221.7h8.4M405.9 216.8v9.8M401.7 221.7h8.4M407.5 218.1v9.8M403.3 223h8.4M408.7 218.1v9.8M404.5 223h8.4M412.1 219.4v9.8M407.9 224.3h8.4M413.3 219.4v9.8M409.1 224.3h8.4M414.9 219.4v9.8M410.7 224.3h8.4M416.5 221.4v9.8M412.3 226.3h8.4M418.9 221.4v9.8M414.7 226.3h8.4M420.5 222.9v9.8M416.3 227.8h8.4M423.9 224.1v9.8M419.7 229h8.4M424.9 224.1v9.8M420.7 229h8.4M428.3 224.1v9.8M424.1 229h8.4M429.5 224.1v9.8M425.3 229h8.4M431.9 226.6v9.8M427.7 231.5h8.4M433.1 226.6v9.8M428.9 231.5h8.4M434.3 226.6v9.8M430.1 231.5h8.4M436.7 228.5v9.8M432.5 233.4h8.4M437.7 228.5v9.8M433.5 233.4h8.4M438.7 228.5v9.8M434.5 233.4h8.4M441.1 229.4v9.8M436.9 234.3h8.4M444.5 231.1v9.8M440.3 236h8.4M447.9 231.1v9.8M443.7 236h8.4M449.5 232.6v9.8M445.3 237.5h8.4M450.7 232.6v9.8M446.5 237.5h8.4M453.1 232.6v9.8M448.9 237.5h8.4M454.1 232.6v9.8M449.9 237.5h8.4M455.1 232.6v9.8M450.9 237.5h8.4M456.7 234.7v9.8M452.5 239.6h8.4M460.1 234.7v9.8M455.9 239.6h8.4M461.1 234.7v9.8M456.9 239.6h8.4M462.3 236.2v9.8M458.1 241.1h8.4M463.3 236.2v9.8M459.1 241.1h8.4M465.7 236.9v9.8M461.5 241.8h8.4M468.1 236.9v9.8M463.9 241.8h8.4M470.5 236.9v9.8M466.3 241.8h8.4M471.7 236.9v9.8M467.5 241.8h8.4M472.9 239v9.8M468.7 243.9h8.4M474.1 239v9.8M469.9 243.9h8.4M476.5 239.2v9.8M472.3 244.1h8.4M478.9 239.2v9.8M474.7 244.1h8.4M482.3 240.6v9.8M478.1 245.5h8.4M483.5 240.6v9.8M479.3 245.5h8.4M486.9 242.6v9.8M482.7 247.5h8.4M487.9 242.6v9.8M483.7 247.5h8.4M489.5 243.1v9.8M485.3 248h8.4M491.1 243.1v9.8M486.9 248h8.4M492.7 243.1v9.8M488.5 248h8.4M496.1 243.3v9.8M491.9 248.2h8.4M497.7 243.3v9.8M493.5 248.2h8.4M499.3 243.3v9.8M495.1 248.2h8.4M500.9 243.3v9.8M496.7 248.2h8.4M503.1 243.2v9.8M498.9 248.1h8.4M504.3 243.2v9.8M500.1 248.1h8.4M507.9 242.9v9.8M503.7 247.8h8.4M509.1 242.9v9.8M504.9 247.8h8.4M510.3 242.9v9.8M506.1 247.8h8.4M511.5 242.9v9.8M507.3 247.8h8.4M512.7 243.7v9.8M508.5 248.6h8.4M513.9 243.7v9.8M509.7 248.6h8.4M516.1 243.7v9.8M511.9 248.6h8.4M521.1 245.3v9.8M516.9 250.2h8.4M522.3 245.3v9.8M518.1 250.2h8.4M524.5 245.6v9.8M520.3 250.5h8.4M525.5 245.6v9.8M521.3 250.5h8.4M529.1 246.2v9.8M524.9 251.1h8.4M531.3 246.2v9.8M527.1 251.1h8.4M532.5 246.2v9.8M528.3 251.1h8.4M537.5 246.5v9.8M533.3 251.4h8.4M542.5 246.7v9.8M538.3 251.6h8.4M543.7 246.7v9.8M539.5 251.6h8.4M544.7 246.7v9.8M540.5 251.6h8.4M548.3 246.7v9.8M544.1 251.6h8.4M549.3 246.7v9.8M545.1 251.6h8.4M550.3 246.7v9.8M546.1 251.6h8.4M551.3 246.7v9.8M547.1 251.6h8.4M554.9 246.7v9.8M550.7 251.6h8.4M556.1 246.7v9.8M551.9 251.6h8.4M559.7 246.7v9.8M555.5 251.6h8.4M561.9 246.7v9.8M557.7 251.6h8.4M562.9 246.7v9.8M558.7 251.6h8.4M565.1 246.7v9.8M560.9 251.6h8.4M566.3 246.7v9.8M562.1 251.6h8.4M567.3 246.7v9.8M563.1 251.6h8.4M568.3 246.7v9.8M564.1 251.6h8.4M569.5 246.7v9.8M565.3 251.6h8.4M574.5 247v9.8M570.3 251.9h8.4M579.5 249.7v9.8M575.3 254.6h8.4M580.7 250.4v9.8M576.5 255.3h8.4M581.7 250.9v9.8M577.5 255.8h8.4M577.5 248.6v9.8M573.3 253.5h8.4M580 250v9.8M575.8 254.9h8.4M591 251.1v9.8M586.8 256h8.4M597 251.1v9.8M592.8 256h8.4M598.2 251.1v9.8M594 256h8.4M599.5 251.1v9.8M595.3 256h8.4M604 251.1v9.8M599.8 256h8.4M610 251v9.8M605.8 255.9h8.4M611.6 251v9.8M607.4 255.9h8.4M620 251v9.8M615.8 255.9h8.4M621.4 251v9.8M617.2 255.9h8.4M623 251v9.8M618.8 255.9h8.4M625 251v9.8M620.8 255.9h8.4M626.2 251v9.8M622 255.9h8.4M631 251v9.8M626.8 255.9h8.4M632.4 251v9.8M628.2 255.9h8.4M634 251v9.8M629.8 255.9h8.4M635.2 251v9.8M631 255.9h8.4M638 251v9.8M633.8 255.9h8.4M639.2 251v9.8M635 255.9h8.4M640.5 251v9.8M636.3 255.9h8.4M641.8 251v9.8M637.6 255.9h8.4M643 251v9.8M638.8 255.9h8.4M644.2 251v9.8M640 255.9h8.4M651 251v9.8M646.8 255.9h8.4M658 251v9.8M653.8 255.9h8.4M663 250.9v9.8M658.8 255.8h8.4M664.4 250.9v9.8M660.2 255.8h8.4M670 250.9v9.8M665.8 255.8h8.4M674 250.9v9.8M669.8 255.8h8.4M680 250.9v9.8M675.8 255.8h8.4M681.6 250.9v9.8M677.4 255.8h8.4M683.2 250.9v9.8M679 255.8h8.4M685.5 250.9v9.8M681.3 255.8h8.4M687.5 250.9v9.8M683.3 255.8h8.4M696 250.9v9.8M691.8 255.8h8.4M697.6 250.9v9.8M693.4 255.8h8.4M700.6 250.9v9.8M696.4 255.8h8.4M706.4 250.9v9.8M702.2 255.8h8.4M708 250.9v9.8M703.8 255.8h8.4M711 250.9v9.8M706.8 255.8h8.4M713 250.9v9.8M708.8 255.8h8.4M724 250.8v9.8M719.8 255.7h8.4M725.6 250.8v9.8M721.4 255.7h8.4M743.5 250.8v9.8M739.3 255.7h8.4" stroke-width="1.3"/>
</g>
<g fill="none" stroke="#532e07">
<path d="M112 50.5L113 54L115 59L120 65.2L125 70L130 73.5L135 76.3L140 78.7L145 80.6L150 82.3L160 85.6L170 89.4L174.6 90.6L179.6 92.3L186 94.1L191.6 95.6L199.6 98L205.4 99.7L213.4 101.7L221.4 103.9L227.5 105.5L231.2 106.4L235.7 107.4L243.1 109.4L249 111.3L255.3 112.7L261.3 114.4L268.7 115.9L275 117.5L279.9 119L286 120.3L293.2 122.3L298.9 123.5L305 124.8L311.9 126.3L318.1 127.7L326.2 129.6L334 131.5L338.8 132.4L347 134.5L351.2 135.1L356.9 136.5L361.7 137.7L368.5 139.8L376.4 141.3L383.4 143.3L387.7 144.4L396 146L404.1 148L410.1 149.8L417.7 151.1L423.4 152.5L428.6 153.5L433.7 155L437.4 155.7L443.1 156.6L448.3 158.1L454.4 159.1L462.7 161.3L471 162.5L475.8 163.4L483.2 165L487.4 165.9L495.4 167.6L500.2 168.1L508.2 170.2L515.2 171.4L519.1 172.6L524.7 173.1L532.8 174.7L540.3 175.5L548 176.6L555.7 178L560.9 178.9L569 180.4L573.2 181.5L578 182.2L582.3 183.1L586.9 184.2L592 185.5L596.9 186.4L601.4 187.2L605.1 187.8L608.8 188.7L615 189.5L620.9 191L625 191.7L630.7 192.5L638.3 193.8L644.3 195L652.6 196.2L660.2 198L666.9 199.1L672.1 200L676.4 200.9L683.5 202.5L687.9 203.3L695.5 205.6L700 206.5L710 208.5L720 211L730 216L740 221.5L748 222.5L750.7 222.8L750.7 238.7L761.2 238.7L761.2 299.2" stroke-width="1.8" stroke-linejoin="miter" stroke-miterlimit="2"/>
<path d="M112 45.6v9.8M107.8 50.5h8.4M112.2 46.2v10.1M107.9 51.3h8.7M112.4 46.8v10.4M108 52h9M112.7 47.4v10.8M108 52.8h9.2M112.9 48v11.1M108.1 53.6h9.5M113.1 48.6v11.5M108.2 54.3h9.8M113.4 49.1v11.9M108.3 55.1h10.2M113.7 49.6v12.3M108.4 55.8h10.6M114 50.2v12.7M108.6 56.6h10.9M114.3 50.9v12.7M108.9 57.3h10.9M114.6 51.7v12.7M109.2 58h10.9M114.9 52.4v12.7M109.5 58.8h10.9M115.3 53v12.7M109.9 59.4h10.9M115.8 53.7v12.7M110.4 60h10.9M116.3 54.3v12.7M110.9 60.7h10.9M116.8 54.9v12.7M111.4 61.3h10.9M117.3 55.5v12.7M111.9 61.9h10.9M117.8 56.2v12.7M112.4 62.5h10.9M118.3 56.8v12.7M112.9 63.2h10.9M118.8 57.4v12.7M113.4 63.8h10.9M119.3 58v12.7M113.9 64.4h10.9M119.8 58.7v12.7M114.4 65h10.9M120.3 59.2v12.7M114.9 65.6h10.9M120.9 59.8v12.7M115.5 66.1h10.9M121.5 60.3v12.7M116 66.7h10.9M122.1 60.9v12.7M116.6 67.2h10.9M122.7 61.4v12.7M117.2 67.8h10.9M123.2 62v12.7M117.8 68.3h10.9M123.8 62.5v12.7M118.4 68.9h10.9M124.4 63.1v12.7M118.9 69.4h10.9M125 63.6v12.7M119.5 70h10.9M125.6 64.1v12.7M120.2 70.4h10.9M126.3 64.5v12.7M120.8 70.9h10.9M126.9 65v12.7M121.5 71.4h10.9M127.6 65.5v12.7M122.1 71.8h10.9M128.3 65.9v12.7M122.8 72.3h10.9M128.9 66.4v12.7M123.5 72.7h10.9M129.6 66.8v12.7M124.1 73.2h10.9M130.2 67.3v12.7M124.8 73.6h10.9M130.9 67.6v12.7M125.5 74h10.9M131.6 68v12.7M126.2 74.4h10.9M132.3 68.4v12.7M126.9 74.8h10.9M133 68.8v12.7M127.6 75.2h10.9M133.7 69.2v12.7M128.3 75.6h10.9M134.4 69.6v12.7M129 76h10.9M135.1 70v12.7M129.7 76.4h10.9M135.8 70.4v12.7M130.4 76.7h10.8M136.6 70.8v12.6M131.2 77h10.8M137.3 71.1v12.5M131.9 77.4h10.7M138 71.5v12.4M132.7 77.7h10.7M138.7 71.9v12.4M133.4 78.1h10.6M139.4 72.3v12.3M134.2 78.4h10.5M140.2 72.6v12.2M134.9 78.8h10.5M140.9 73v12.2M135.7 79h10.4M141.7 73.3v12.1M136.5 79.3h10.4M142.4 73.6v12M137.3 79.6h10.3M143.2 73.9v11.9M138 79.9h10.2M143.9 74.2v11.9M138.8 80.2h10.2M144.6 74.6v11.8M139.6 80.5h10.1M145.4 74.9v11.7M140.4 80.7h10M146.2 75.2v11.6M141.2 81h10M146.9 75.5v11.6M142 81.2h9.9M147.7 75.8v11.5M142.7 81.5h9.9M148.4 76.1v11.4M143.5 81.8h9.8M149.2 76.3v11.4M144.3 82h9.7M149.9 76.6v11.3M145.1 82.3h9.7M150.7 76.9v11.2M145.9 82.5h9.6M151.5 77.2v11.1M146.7 82.8h9.5M152.2 77.5v11.1M147.5 83h9.5M153 77.8v11M148.3 83.3h9.4M153.7 78.1v10.9M149.1 83.5h9.3M154.5 78.4v10.8M149.9 83.8h9.3M155.3 78.7v10.8M150.6 84h9.2M156 78.9v10.7M151.4 84.3h9.2M156.8 79.2v10.6M152.2 84.5h9.1M157.5 79.5v10.5M153 84.8h9M158.3 79.8v10.5M153.8 85h9M159.1 80.1v10.4M154.6 85.3h8.9M159.8 80.4v10.3M155.4 85.5h8.8M160.6 80.7v10.2M156.2 85.8h8.8M161.3 81v10.2M157 86.1h8.7M162.1 81.3v10.1M157.7 86.4h8.6M162.8 81.7v10M158.5 86.7h8.6M163.6 82v9.9M159.3 87h8.5M164.3 82.3v9.9M160.1 87.2h8.5M165.1 82.6v9.8M160.9 87.5h8.4M165.8 82.9v9.8M161.6 87.8h8.4M166.6 83.2v9.8M162.4 88.1h8.4M167.3 83.5v9.8M163.1 88.4h8.4M168.1 83.8v9.8M163.9 88.7h8.4M168.8 84v9.8M164.6 88.9h8.4M169.5 84.3v9.8M165.3 89.2h8.4M170.3 84.6v9.8M166.1 89.5h8.4M171.1 84.8v9.8M166.9 89.7h8.4M171.8 85v9.8M167.6 89.9h8.4M172.6 85.2v9.8M168.4 90.1h8.4M173.4 85.4v9.8M169.2 90.3h8.4M174.2 85.6v9.8M170 90.5h8.4M174.9 85.8v9.8M170.7 90.7h8.4M175.7 86.1v9.8M171.5 91h8.4M176.5 86.3v9.8M172.3 91.2h8.4M177.2 86.6v9.8M173 91.5h8.4M178 86.9v9.8M173.8 91.8h8.4M178.7 87.1v9.8M174.5 92h8.4M179.5 87.4v9.8M175.3 92.3h8.4M180.2 87.6v9.8M176 92.5h8.4M181 87.8v9.8M176.8 92.7h8.4M181.8 88v9.8M177.6 92.9h8.4M182.6 88.3v9.8M178.4 93.2h8.4M183.3 88.5v9.8M179.1 93.4h8.4M184.1 88.7v9.8M179.9 93.6h8.4M184.9 88.9v9.8M180.7 93.8h8.4M185.6 89.1v9.8M181.4 94h8.4M186.4 89.3v9.8M182.2 94.2h8.4M187.2 89.5v9.8M183 94.4h8.4M187.9 89.8v9.8M183.7 94.7h8.4M188.7 90v9.8M184.5 94.9h8.4M189.5 90.2v9.8M185.3 95.1h8.4M190.3 90.4v9.8M186.1 95.3h8.4M191 90.6v9.8M186.8 95.5h8.4M191.8 90.8v9.8M187.6 95.7h8.4M192.6 91v9.8M188.4 95.9h8.4M193.3 91.2v9.8M189.1 96.1h8.4M194.1 91.5v9.8M189.9 96.4h8.4M194.9 91.7v9.8M190.7 96.6h8.4M195.6 91.9v9.8M191.4 96.8h8.4M196.4 92.2v9.8M192.2 97.1h8.4M197.2 92.4v9.8M193 97.3h8.4M197.9 92.6v9.8M193.7 97.5h8.4M198.7 92.8v9.8M194.5 97.7h8.4M199.5 93.1v9.8M195.3 98h8.4M200.2 93.3v9.8M196 98.2h8.4M201 93.5v9.8M196.8 98.4h8.4M201.8 93.7v9.8M197.6 98.6h8.4M202.6 94v9.8M198.4 98.9h8.4M203.3 94.2v9.8M199.1 99.1h8.4M204.1 94.4v9.8M199.9 99.3h8.4M204.9 94.6v9.8M200.7 99.5h8.4M205.6 94.8v9.8M201.4 99.7h8.4M206.4 95v9.8M202.2 99.9h8.4M207.2 95.2v9.8M203 100.1h8.4M208 95.4v9.8M203.8 100.3h8.4M208.7 95.6v9.8M204.5 100.5h8.4M209.5 95.8v9.8M205.3 100.7h8.4M210.3 96v9.8M206.1 100.9h8.4M211.1 96.2v9.8M206.9 101.1h8.4M211.8 96.4v9.8M207.6 101.3h8.4M212.6 96.6v9.8M208.4 101.5h8.4M213.4 96.8v9.8M209.2 101.7h8.4M214.2 97v9.8M210 101.9h8.4M214.9 97.2v9.8M210.7 102.1h8.4M215.7 97.4v9.8M211.5 102.3h8.4M216.5 97.6v9.8M212.3 102.5h8.4M217.2 97.8v9.8M213 102.7h8.4M218 98.1v9.8M213.8 103h8.4M218.8 98.3v9.8M214.6 103.2h8.4M219.6 98.5v9.8M215.4 103.4h8.4M220.3 98.7v9.8M216.1 103.6h8.4M221.1 98.9v9.8M216.9 103.8h8.4M221.9 99.1v9.8M217.7 104h8.4M222.6 99.3v9.8M218.4 104.2h8.4M223.4 99.5v9.8M219.2 104.4h8.4M224.2 99.7v9.8M220 104.6h8.4M225 99.9v9.8M220.8 104.8h8.4M225.7 100.1v9.8M221.5 105h8.4M226.5 100.3v9.8M222.3 105.2h8.4M227.3 100.5v9.8M223.1 105.4h8.4M228.1 100.7v9.8M223.9 105.6h8.4M228.8 100.9v9.8M224.6 105.8h8.4M229.6 101.1v9.8M225.4 106h8.4M230.4 101.3v9.8M226.2 106.2h8.4M231.2 101.5v9.8M227 106.4h8.4M231.9 101.7v9.8M227.7 106.6h8.4M232.7 101.8v9.8M228.5 106.7h8.4M233.5 102v9.8M229.3 106.9h8.4M234.3 102.2v9.8M230.1 107.1h8.4M235.1 102.3v9.8M230.9 107.2h8.4M235.9 102.5v9.8M231.7 107.4h8.4M236.6 102.7v9.8M232.4 107.6h8.4M237.4 102.9v9.8M233.2 107.8h8.4M238.2 103.1v9.8M234 108h8.4M238.9 103.4v9.8M234.7 108.3h8.4M239.7 103.6v9.8M235.5 108.5h8.4M240.5 103.8v9.8M236.3 108.7h8.4M241.3 104v9.8M237.1 108.9h8.4M242 104.2v9.8M237.8 109.1h8.4M242.8 104.4v9.8M238.6 109.3h8.4M243.6 104.7v9.8M239.4 109.6h8.4M244.3 104.9v9.8M240.1 109.8h8.4M245.1 105.1v9.8M240.9 110h8.4M245.9 105.4v9.8M241.7 110.3h8.4M246.6 105.6v9.8M242.4 110.5h8.4M247.4 105.9v9.8M243.2 110.8h8.4M248.1 106.1v9.8M243.9 111h8.4M248.9 106.3v9.8M244.7 111.2h8.4M249.7 106.5v9.8M245.5 111.4h8.4M250.5 106.7v9.8M246.3 111.6h8.4M251.3 106.9v9.8M247.1 111.8h8.4M252 107v9.8M247.8 111.9h8.4M252.8 107.2v9.8M248.6 112.1h8.4M253.6 107.4v9.8M249.4 112.3h8.4M254.4 107.6v9.8M250.2 112.5h8.4M255.2 107.7v9.8M251 112.6h8.4M255.9 108v9.8M251.7 112.9h8.4M256.7 108.2v9.8M252.5 113.1h8.4M257.5 108.4v9.8M253.3 113.3h8.4M258.2 108.6v9.8M254 113.5h8.4M259 108.8v9.8M254.8 113.7h8.4M259.8 109v9.8M255.6 113.9h8.4M260.6 109.2v9.8M256.4 114.1h8.4M261.3 109.4v9.8M257.1 114.4h8.4M262.1 109.6v9.8M257.9 114.5h8.4M262.9 109.8v9.8M258.7 114.7h8.4M263.7 109.9v9.8M259.5 114.8h8.4M264.5 110.1v9.8M260.2 115h8.4M265.2 110.2v9.9M261 115.2h8.4M266 110.4v9.9M261.8 115.3h8.5M266.8 110.6v9.9M262.6 115.5h8.5M267.6 110.7v9.9M263.4 115.6h8.5M268.4 110.9v9.9M264.1 115.8h8.5M269.2 111v9.9M264.9 116h8.5M269.9 111.2v9.9M265.7 116.2h8.5M270.7 111.4v9.9M266.5 116.4h8.5M271.5 111.6v9.9M267.2 116.6h8.5M272.3 111.8v9.9M268 116.8h8.5M273 112v9.9M268.8 117h8.5M273.8 112.2v9.9M269.6 117.2h8.5M274.6 112.4v9.9M270.3 117.4h8.5M275.4 112.6v10M271.1 117.6h8.5M276.1 112.9v10M271.9 117.8h8.5M276.9 113.1v10M272.6 118.1h8.5M277.7 113.3v10M273.4 118.3h8.5M278.4 113.5v10M274.1 118.5h8.6M279.2 113.8v10M274.9 118.8h8.6M279.9 114v10M275.7 119h8.6M280.7 114.2v10M276.4 119.2h8.6M281.5 114.3v10M277.2 119.3h8.6M282.3 114.5v10M278 119.5h8.6M283.1 114.7v10M278.8 119.7h8.6M283.9 114.8v10M279.6 119.9h8.6M284.6 115v10M280.3 120h8.6M285.4 115.2v10M281.1 120.2h8.6M286.2 115.4v10.1M281.9 120.4h8.6M287 115.6v10.1M282.7 120.6h8.6M287.7 115.8v10.1M283.4 120.8h8.6M288.5 116v10.1M284.2 121h8.6M289.3 116.2v10.1M285 121.2h8.6M290.1 116.4v10.1M285.7 121.4h8.7M290.8 116.6v10.1M286.5 121.7h8.7M291.6 116.8v10.1M287.3 121.9h8.7M292.4 117v10.1M288 122.1h8.7M293.1 117.2v10.1M288.8 122.3h8.7M293.9 117.4v10.1M289.6 122.5h8.7M294.7 117.5v10.1M290.4 122.6h8.7M295.5 117.7v10.1M291.1 122.8h8.7M296.3 117.9v10.2M291.9 122.9h8.7M297.1 118v10.2M292.7 123.1h8.7M297.8 118.2v10.2M293.5 123.3h8.7M298.6 118.4v10.2M294.3 123.4h8.7M299.4 118.5v10.2M295 123.6h8.7M300.2 118.7v10.2M295.8 123.8h8.7M301 118.8v10.2M296.6 123.9h8.7M301.8 119v10.2M297.4 124.1h8.8M302.5 119.2v10.2M298.2 124.3h8.8M303.3 119.3v10.2M298.9 124.5h8.8M304.1 119.5v10.2M299.7 124.6h8.8M304.9 119.7v10.2M300.5 124.8h8.8M305.7 119.8v10.2M301.3 125h8.8M306.4 120v10.3M302 125.1h8.8M307.2 120.2v10.3M302.8 125.3h8.8M308 120.3v10.3M303.6 125.5h8.8M308.8 120.5v10.3M304.4 125.6h8.8M309.6 120.7v10.3M305.2 125.8h8.8M310.4 120.8v10.3M305.9 126h8.8M311.1 121v10.3M306.7 126.2h8.8M311.9 121.2v10.3M307.5 126.3h8.8M312.7 121.3v10.3M308.3 126.5h8.8M313.5 121.5v10.3M309.1 126.7h8.8M314.3 121.7v10.3M309.8 126.8h8.9M315 121.9v10.3M310.6 127h8.9M315.8 122v10.3M311.4 127.2h8.9M316.6 122.2v10.4M312.2 127.4h8.9M317.4 122.4v10.4M312.9 127.6h8.9M318.2 122.5v10.4M313.7 127.7h8.9M318.9 122.7v10.4M314.5 127.9h8.9M319.7 122.9v10.4M315.3 128.1h8.9M320.5 123.1v10.4M316 128.3h8.9M321.3 123.3v10.4M316.8 128.5h8.9M322 123.5v10.4M317.6 128.7h8.9M322.8 123.6v10.4M318.4 128.8h8.9M323.6 123.8v10.4M319.2 129h8.9M324.4 124v10.4M319.9 129.2h8.9M325.2 124.2v10.4M320.7 129.4h8.9M325.9 124.4v10.4M321.5 129.6h8.9M326.7 124.6v10.4M322.3 129.8h8.9M327.5 124.8v10.4M323 130h8.9M328.3 125v10.4M323.8 130.1h8.9M329.1 125.1v10.4M324.6 130.3h8.9M329.8 125.3v10.4M325.4 130.5h8.9M330.6 125.5v10.4M326.2 130.7h8.9M331.4 125.7v10.4M326.9 130.9h8.9M332.2 125.9v10.4M327.7 131.1h8.9M332.9 126.1v10.4M328.5 131.3h8.9M333.7 126.3v10.4M329.3 131.5h8.9M334.5 126.4v10.4M330 131.6h8.9M335.3 126.6v10.4M330.8 131.8h8.9M336.1 126.7v10.4M331.6 131.9h8.9M336.9 126.8v10.4M332.4 132h8.9M337.6 127v10.4M333.2 132.2h8.9M338.4 127.1v10.4M334 132.3h8.9M339.2 127.3v10.4M334.8 132.5h8.9M340 127.5v10.4M335.5 132.7h8.9M340.8 127.7v10.4M336.3 132.9h8.9M341.5 127.9v10.4M337.1 133.1h8.9M342.3 128.1v10.4M337.9 133.3h8.9M343.1 128.3v10.4M338.6 133.5h8.9M343.9 128.5v10.4M339.4 133.7h8.9M344.6 128.7v10.4M340.2 133.9h8.9M345.4 128.9v10.4M341 134.1h8.9M346.2 129.1v10.4M341.7 134.3h8.9M347 129.3v10.4M342.5 134.5h8.9M347.8 129.4v10.4M343.3 134.6h8.9M348.5 129.5v10.4M344.1 134.7h8.9M349.3 129.7v10.4M344.9 134.9h8.9M350.1 129.8v10.4M345.7 135h8.9M350.9 129.9v10.4M346.5 135.1h8.9M351.7 130v10.4M347.3 135.2h8.9M352.5 130.2v10.4M348 135.4h8.9M353.3 130.4v10.4M348.8 135.6h8.9M354 130.6v10.4M349.6 135.8h8.9M354.8 130.8v10.4M350.4 136h8.9M355.6 131v10.4M351.1 136.2h8.9M356.4 131.2v10.4M351.9 136.4h8.9M357.2 131.4v10.4M352.7 136.5h8.9M357.9 131.5v10.4M353.5 136.7h8.9M358.7 131.7v10.4M354.3 136.9h8.9M359.5 131.9v10.4M355 137.1h8.9M360.3 132.1v10.4M355.8 137.3h8.9M361 132.3v10.4M356.6 137.5h8.9M361.8 132.5v10.4M357.4 137.7h8.9M362.6 132.7v10.4M358.1 137.9h8.9M363.3 133v10.4M358.9 138.2h8.9M364.1 133.2v10.4M359.7 138.4h8.9M364.9 133.4v10.4M360.4 138.6h8.9M365.6 133.7v10.4M361.2 138.9h8.9M366.4 133.9v10.4M362 139.1h8.9M367.2 134.2v10.4M362.7 139.3h8.9M367.9 134.4v10.4M363.5 139.6h8.9M368.7 134.6v10.4M364.2 139.8h8.9M369.5 134.8v10.4M365 139.9h8.9M370.3 134.9v10.4M365.8 140.1h8.9M371.1 135.1v10.4M366.6 140.3h8.9M371.8 135.2v10.4M367.4 140.4h8.9M372.6 135.4v10.4M368.2 140.6h8.9M373.4 135.5v10.4M369 140.7h8.9M374.2 135.7v10.4M369.7 140.9h8.9M375 135.8v10.4M370.5 141h8.9M375.8 136v10.4M371.3 141.2h8.9M376.5 136.2v10.4M372.1 141.4h8.9M377.3 136.4v10.4M372.9 141.6h8.9M378.1 136.6v10.4M373.6 141.8h8.9M378.9 136.8v10.4M374.4 142h8.9M379.6 137v10.4M375.2 142.2h8.9M380.4 137.2v10.4M375.9 142.4h8.9M381.2 137.5v10.4M376.7 142.7h8.9M381.9 137.7v10.4M377.5 142.9h8.9M382.7 137.9v10.4M378.3 143.1h8.9M383.5 138.1v10.4M379 143.3h8.9M384.3 138.3v10.4M379.8 143.5h8.9M385 138.5v10.4M380.6 143.7h8.9M385.8 138.7v10.4M381.3 143.9h8.9M386.6 138.9v10.4M382.1 144.1h8.9M387.3 139.1v10.4M382.9 144.3h8.9M388.1 139.3v10.4M383.7 144.5h8.9M388.9 139.5v10.4M384.5 144.7h8.9M389.7 139.6v10.4M385.2 144.8h8.9M390.5 139.8v10.4M386 145h8.9M391.3 139.9v10.4M386.8 145.1h8.9M392 140.1v10.4M387.6 145.3h8.9M392.8 140.2v10.4M388.4 145.4h8.9M393.6 140.4v10.4M389.2 145.5h8.9M394.4 140.5v10.4M390 145.7h8.9M395.2 140.6v10.4M390.7 145.8h8.9M396 140.8v10.4M391.5 146h8.9M396.8 141v10.4M392.3 146.2h8.9M397.5 141.2v10.4M393.1 146.4h8.9M398.3 141.4v10.4M393.9 146.6h8.9M399.1 141.6v10.4M394.6 146.8h8.9M399.9 141.8v10.4M395.4 147h8.9M400.6 141.9v10.4M396.2 147.1h8.9M401.4 142.1v10.4M397 147.3h8.9M402.2 142.3v10.4M397.7 147.5h8.9M403 142.5v10.4M398.5 147.7h8.9M403.7 142.7v10.4M399.3 147.9h8.9M404.5 142.9v10.4M400.1 148.1h8.9M405.3 143.2v10.4M400.8 148.3h8.9M406.1 143.4v10.4M401.6 148.6h8.9M406.8 143.6v10.4M402.4 148.8h8.9M407.6 143.8v10.4M403.1 149h8.9M408.4 144.1v10.4M403.9 149.3h8.9M409.1 144.3v10.4M404.7 149.5h8.9M409.9 144.5v10.4M405.4 149.7h8.9M410.7 144.7v10.4M406.2 149.9h8.9M411.5 144.8v10.4M407 150h8.9M412.2 144.9v10.4M407.8 150.1h8.9M413 145.1v10.4M408.6 150.3h8.9M413.8 145.2v10.4M409.4 150.4h8.9M414.6 145.3v10.4M410.2 150.5h8.9M415.4 145.5v10.4M410.9 150.7h8.9M416.2 145.6v10.4M411.7 150.8h8.9M417 145.7v10.4M412.5 150.9h8.9M417.8 145.9v10.4M413.3 151.1h8.9M418.5 146.1v10.4M414.1 151.3h8.9M419.3 146.3v10.4M414.9 151.5h8.9M420.1 146.5v10.4M415.6 151.7h8.9M420.9 146.7v10.4M416.4 151.9h8.9M421.6 146.9v10.4M417.2 152.1h8.9M422.4 147.1v10.4M418 152.3h8.9M423.2 147.3v10.4M418.7 152.5h8.9M424 147.5v10.4M419.5 152.7h8.9M424.7 147.6v10.4M420.3 152.8h8.9M425.5 147.8v10.4M421.1 152.9h8.9M426.3 147.9v10.4M421.9 153.1h8.9M427.1 148v10.4M422.7 153.2h8.9M427.9 148.2v10.4M423.4 153.4h8.9M428.7 148.3v10.4M424.2 153.5h8.9M429.4 148.6v10.4M425 153.7h8.9M430.2 148.8v10.4M425.8 154h8.9M431 149v10.4M426.5 154.2h8.9M431.8 149.2v10.4M427.3 154.4h8.9M432.5 149.4v10.4M428.1 154.6h8.9M433.3 149.6v10.4M428.8 154.8h8.9M434.1 149.8v10.4M429.6 155h8.9M434.9 150v10.4M430.4 155.2h8.9M435.6 150.1v10.4M431.2 155.3h8.9M436.4 150.3v10.4M432 155.5h8.9M437.2 150.4v10.4M432.8 155.6h8.9M438 150.6v10.4M433.5 155.8h8.9M438.8 150.7v10.4M434.3 155.9h8.9M439.6 150.8v10.4M435.1 156h8.9M440.4 151v10.4M435.9 156.1h8.9M441.2 151.1v10.4M436.7 156.3h8.9M441.9 151.2v10.4M437.5 156.4h8.9M442.7 151.3v10.4M438.3 156.5h8.9M443.5 151.5v10.4M439.1 156.7h8.9M444.3 151.7v10.4M439.8 156.9h8.9M445.1 152v10.4M440.6 157.2h8.9M445.8 152.2v10.4M441.4 157.4h8.9M446.6 152.4v10.4M442.1 157.6h8.9M447.4 152.6v10.4M442.9 157.8h8.9M448.1 152.9v10.4M443.7 158.1h8.9M448.9 153v10.4M444.5 158.2h8.9M449.7 153.1v10.4M445.2 158.3h8.9M450.5 153.3v10.4M446 158.5h8.9M451.3 153.4v10.4M446.8 158.6h8.9M452.1 153.5v10.4M447.6 158.7h8.9M452.9 153.7v10.4M448.4 158.9h8.9M453.6 153.8v10.4M449.2 159h8.9M454.4 153.9v10.4M450 159.1h8.9M455.2 154.1v10.4M450.8 159.3h8.9M456 154.3v10.4M451.5 159.5h8.9M456.8 154.5v10.4M452.3 159.7h8.9M457.5 154.7v10.4M453.1 159.9h8.9M458.3 154.9v10.4M453.9 160.1h8.9M459.1 155.1v10.4M454.6 160.3h8.9M459.8 155.4v10.4M455.4 160.5h8.9M460.6 155.6v10.4M456.2 160.8h8.9M461.4 155.8v10.4M456.9 161h8.9M462.2 156v10.4M457.7 161.2h8.9M462.9 156.1v10.4M458.5 161.3h8.9M463.7 156.3v10.4M459.3 161.4h8.9M464.5 156.4v10.4M460.1 161.6h8.9M465.3 156.5v10.4M460.9 161.7h8.9M466.1 156.6v10.4M461.7 161.8h8.9M466.9 156.7v10.4M462.4 161.9h8.9M467.7 156.8v10.4M463.2 162h8.9M468.5 156.9v10.4M464 162.1h8.9M469.3 157.1v10.4M464.8 162.3h8.9M470.1 157.2v10.4M465.6 162.4h8.9M470.9 157.3v10.4M466.4 162.5h8.9M471.6 157.4v10.4M467.2 162.6h8.9M472.4 157.6v10.4M468 162.8h8.9M473.2 157.7v10.4M468.8 162.9h8.9M474 157.9v10.4M469.6 163.1h8.9M474.8 158v10.4M470.3 163.2h8.9M475.6 158.2v10.4M471.1 163.4h8.9M476.4 158.3v10.4M471.9 163.5h8.9M477.1 158.5v10.4M472.7 163.7h8.9M477.9 158.7v10.4M473.5 163.9h8.9M478.7 158.8v10.4M474.3 164h8.9M479.5 159v10.4M475 164.2h8.9M480.3 159.2v10.4M475.8 164.4h8.9M481.1 159.3v10.4M476.6 164.5h8.9M481.8 159.5v10.4M477.4 164.7h8.9M482.6 159.7v10.4M478.2 164.8h8.9M483.4 159.8v10.4M479 165h8.9M484.2 160v10.4M479.7 165.2h8.9M485 160.2v10.4M480.5 165.3h8.9M485.8 160.3v10.4M481.3 165.5h8.9M486.5 160.5v10.4M482.1 165.7h8.9M487.3 160.6v10.4M482.9 165.8h8.9M488.1 160.8v10.4M483.7 166h8.9M488.9 161v10.4M484.4 166.2h8.9M489.7 161.2v10.4M485.2 166.4h8.9M490.5 161.3v10.4M486 166.5h8.9M491.2 161.5v10.4M486.8 166.7h8.9M492 161.7v10.4M487.6 166.9h8.9M492.8 161.9v10.4M488.3 167h8.9M493.6 162v10.4M489.1 167.2h8.9M494.4 162.2v10.4M489.9 167.4h8.9M495.1 162.4v10.4M490.7 167.6h8.9M495.9 162.5v10.4M491.5 167.7h8.9M496.7 162.6v10.4M492.3 167.8h8.9M497.5 162.6v10.4M493.1 167.8h8.9M498.3 162.7v10.4M493.9 167.9h8.9M499.1 162.8v10.4M494.6 168h8.9M499.9 162.9v10.4M495.4 168.1h8.9M500.7 163.1v10.4M496.2 168.3h8.9M501.5 163.3v10.4M497 168.5h8.9M502.2 163.5v10.4M497.8 168.6h8.9M503 163.6v10.4M498.6 168.8h8.9M503.8 163.8v10.4M499.3 169h8.9M504.6 164v10.4M500.1 169.2h8.9M505.3 164.2v10.4M500.9 169.4h8.9M506.1 164.4v10.4M501.7 169.6h8.9M506.9 164.6v10.4M502.4 169.8h8.9M507.7 164.8v10.4M503.2 170h8.9M508.5 165v10.4M504 170.2h8.9M509.2 165.1v10.4M504.8 170.3h8.9M510 165.3v10.4M505.6 170.5h8.9M510.8 165.4v10.4M506.4 170.6h8.9M511.6 165.6v10.4M507.1 170.8h8.9M512.4 165.7v10.4M507.9 170.9h8.9M513.2 165.8v10.4M508.7 171h8.9M514 166v10.4M509.5 171.2h8.9M514.8 166.1v10.4M510.3 171.3h8.9M515.5 166.3v10.4M511.1 171.5h8.9M516.3 166.5v10.4M511.9 171.7h8.9M517.1 166.8v10.4M512.6 172h8.9M517.8 167v10.4M513.4 172.2h8.9M518.6 167.3v10.4M514.1 172.5h8.9M519.4 167.4v10.4M514.9 172.6h8.9M520.2 167.5v10.4M515.7 172.7h8.9M520.9 167.6v10.4M516.5 172.8h8.9M521.7 167.7v10.4M517.3 172.9h8.9M522.5 167.7v10.4M518.1 172.9h8.9M523.3 167.8v10.4M518.9 173h8.9M524.1 167.9v10.4M519.7 173.1h8.9M524.9 168v10.4M520.5 173.2h8.9M525.7 168.1v10.4M521.3 173.3h8.9M526.5 168.3v10.4M522.1 173.5h8.9M527.3 168.5v10.4M522.8 173.6h8.9M528.1 168.6v10.4M523.6 173.8h8.9M528.9 168.8v10.4M524.4 173.9h8.9M529.6 168.9v10.4M525.2 174.1h8.9M530.4 169.1v10.4M526 174.2h8.9M531.2 169.2v10.4M526.8 174.4h8.9M532 169.4v10.4M527.6 174.5h8.9M532.8 169.5v10.4M528.3 174.7h8.9M533.6 169.6v10.4M529.1 174.8h8.9M534.4 169.7v10.4M529.9 174.9h8.9M535.2 169.8v10.4M530.7 175h8.9M536 169.8v10.4M531.5 175h8.9M536.8 169.9v10.4M532.3 175.1h8.9M537.6 170v10.4M533.1 175.2h8.9M538.4 170.1v10.4M533.9 175.3h8.9M539.2 170.2v10.4M534.7 175.4h8.9M539.9 170.3v10.4M535.5 175.5h8.9M540.7 170.4v10.4M536.3 175.6h8.9M541.5 170.5v10.4M537.1 175.7h8.9M542.3 170.6v10.4M537.9 175.8h8.9M543.1 170.7v10.4M538.7 175.9h8.9M543.9 170.8v10.4M539.5 176h8.9M544.7 171v10.4M540.2 176.1h8.9M545.5 171.1v10.4M541 176.3h8.9M546.3 171.2v10.4M541.8 176.4h8.9M547.1 171.3v10.4M542.6 176.5h8.9M547.9 171.4v10.4M543.4 176.6h8.9M548.7 171.6v10.4M544.2 176.8h8.9M549.4 171.7v10.4M545 176.9h8.9M550.2 171.8v10.4M545.8 177h8.9M551 172v10.4M546.6 177.2h8.9M551.8 172.1v10.4M547.4 177.3h8.9M552.6 172.3v10.4M548.1 177.5h8.9M553.4 172.4v10.4M548.9 177.6h8.9M554.2 172.6v10.4M549.7 177.8h8.9M555 172.7v10.4M550.5 177.9h8.9M555.7 172.8v10.4M551.3 178h8.9M556.5 173v10.4M552.1 178.2h8.9M557.3 173.1v10.4M552.9 178.3h8.9M558.1 173.2v10.4M553.7 178.4h8.9M558.9 173.4v10.4M554.4 178.6h8.9M559.7 173.5v10.4M555.2 178.7h8.9M560.5 173.7v10.4M556 178.8h8.9M561.3 173.8v10.4M556.8 179h8.9M562 173.9v10.4M557.6 179.1h8.9M562.8 174.1v10.4M558.4 179.3h8.9M563.6 174.2v10.4M559.2 179.4h8.9M564.4 174.4v10.4M560 179.6h8.9M565.2 174.5v10.4M560.7 179.7h8.9M566 174.7v10.4M561.5 179.9h8.9M566.8 174.8v10.4M562.3 180h8.9M567.6 175v10.4M563.1 180.2h8.9M568.3 175.1v10.4M563.9 180.3h8.9M569.1 175.3v10.4M564.7 180.5h8.9M569.9 175.5v10.4M565.4 180.6h8.9M570.7 175.6v10.4M566.2 180.8h8.9M571.5 175.8v10.4M567 181h8.9M572.2 176v10.4M567.8 181.2h8.9M573 176.2v10.4M568.6 181.4h8.9M573.8 176.4v10.4M569.3 181.5h8.9M574.6 176.5v10.4M570.1 181.7h8.9M575.4 176.6v10.4M570.9 181.8h8.9M576.2 176.7v10.4M571.7 181.9h8.9M577 176.8v10.4M572.5 182h8.9M577.7 177v10.4M573.3 182.2h8.9M578.5 177.1v10.4M574.1 182.3h8.9M579.3 177.3v10.4M574.9 182.5h8.9M580.1 177.4v10.4M575.6 182.6h8.9M580.9 177.6v10.4M576.4 182.8h8.9M581.7 177.7v10.4M577.2 182.9h8.9M582.5 177.9v10.4M578 183.1h8.9M583.2 178.1v10.4M578.8 183.3h8.9M584 178.3v10.4M579.6 183.5h8.9M584.8 178.5v10.4M580.3 183.7h8.9M585.6 178.7v10.4M581.1 183.8h8.9M586.3 178.8v10.4M581.9 184h8.9M587.1 179v10.4M582.7 184.2h8.9M587.9 179.2v10.4M583.4 184.4h8.9M588.7 179.4v10.4M584.2 184.6h8.9M589.4 179.6v10.4M585 184.8h8.9M590.2 179.8v10.4M585.8 185h8.9M591 180v10.4M586.5 185.2h8.9M591.8 180.2v10.4M587.3 185.4h8.9M592.5 180.4v10.4M588.1 185.6h8.9M593.3 180.5v10.4M588.9 185.7h8.9M594.1 180.7v10.4M589.7 185.9h8.9M594.9 180.8v10.4M590.5 186h8.9M595.7 181v10.4M591.2 186.1h8.9M596.5 181.1v10.4M592 186.3h8.9M597.3 181.2v10.4M592.8 186.4h8.9M598.1 181.4v10.4M593.6 186.6h8.9M598.8 181.5v10.4M594.4 186.7h8.9M599.6 181.7v10.4M595.2 186.8h8.9M600.4 181.8v10.4M596 187h8.9M601.2 181.9v10.4M596.8 187.1h8.9M602 182.1v10.4M597.5 187.3h8.9M602.8 182.2v10.4M598.3 187.4h8.9M603.6 182.3v10.4M599.1 187.5h8.9M604.4 182.5v10.4M599.9 187.6h8.9M605.2 182.6v10.4M600.7 187.8h8.9M605.9 182.8v10.4M601.5 188h8.9M606.7 183v10.4M602.3 188.2h8.9M607.5 183.2v10.4M603 188.4h8.9M608.3 183.4v10.4M603.8 188.6h8.9M609 183.6v10.4M604.6 188.8h8.9M609.8 183.7v10.4M605.4 188.9h8.9M610.6 183.8v10.4M606.2 189h8.9M611.4 183.9v10.4M607 189.1h8.9M612.2 184v10.4M607.7 189.2h8.9M613 184.1v10.4M608.5 189.3h8.9M613.8 184.2v10.4M609.3 189.4h8.9M614.6 184.3v10.4M610.1 189.5h8.9M615.4 184.4v10.4M610.9 189.6h8.9M616.2 184.6v10.4M611.7 189.8h8.9M616.9 184.8v10.4M612.5 190h8.9M617.7 185v10.4M613.2 190.2h8.9M618.5 185.2v10.4M614 190.4h8.9M619.3 185.4v10.4M614.8 190.6h8.9M620 185.6v10.4M615.6 190.8h8.9M620.8 185.8v10.4M616.3 191h8.9M621.6 185.9v10.4M617.1 191.1h8.9M622.4 186.1v10.4M617.9 191.3h8.9M623.2 186.2v10.4M618.7 191.4h8.9M624 186.3v10.4M619.5 191.5h8.9M624.7 186.5v10.4M620.3 191.6h8.9M625.5 186.6v10.4M621.1 191.8h8.9M626.3 186.7v10.4M621.9 191.9h8.9M627.1 186.8v10.4M622.7 192h8.9M627.9 186.9v10.4M623.5 192.1h8.9M628.7 187v10.4M624.2 192.2h8.9M629.5 187.2v10.4M625 192.3h8.9M630.3 187.3v10.4M625.8 192.5h8.9M631.1 187.4v10.4M626.6 192.6h8.9M631.9 187.5v10.4M627.4 192.7h8.9M632.7 187.7v10.4M628.2 192.9h8.9M633.4 187.8v10.4M629 193h8.9M634.2 187.9v10.4M629.8 193.1h8.9M635 188.1v10.4M630.6 193.3h8.9M635.8 188.2v10.4M631.4 193.4h8.9M636.6 188.3v10.4M632.1 193.5h8.9M637.4 188.5v10.4M632.9 193.7h8.9M638.2 188.6v10.4M633.7 193.8h8.9M639 188.8v10.4M634.5 194h8.9M639.7 188.9v10.4M635.3 194.1h8.9M640.5 189.1v10.4M636.1 194.3h8.9M641.3 189.2v10.4M636.9 194.4h8.9M642.1 189.4v10.4M637.6 194.6h8.9M642.9 189.5v10.4M638.4 194.7h8.9M643.7 189.7v10.4M639.2 194.9h8.9M644.5 189.8v10.4M640 195h8.9M645.2 189.9v10.4M640.8 195.1h8.9M646 190.1v10.4M641.6 195.3h8.9M646.8 190.2v10.4M642.4 195.4h8.9M647.6 190.3v10.4M643.2 195.5h8.9M648.4 190.4v10.4M644 195.6h8.9M649.2 190.5v10.4M644.7 195.7h8.9M650 190.6v10.4M645.5 195.8h8.9M650.8 190.8v10.4M646.3 196h8.9M651.6 190.9v10.4M647.1 196.1h8.9M652.4 191v10.4M647.9 196.2h8.9M653.2 191.2v10.4M648.7 196.4h8.9M653.9 191.3v10.4M649.5 196.5h8.9M654.7 191.5v10.4M650.3 196.7h8.9M655.5 191.7v10.4M651 196.9h8.9M656.3 191.9v10.4M651.8 197.1h8.9M657.1 192.1v10.4M652.6 197.2h8.9M657.8 192.2v10.4M653.4 197.4h8.9M658.6 192.4v10.4M654.2 197.6h8.9M659.4 192.6v10.4M654.9 197.8h8.9M660.2 192.8v10.4M655.7 198h8.9M661 192.9v10.4M656.5 198.1h8.9M661.8 193v10.4M657.3 198.2h8.9M662.5 193.2v10.4M658.1 198.4h8.9M663.3 193.3v10.4M658.9 198.5h8.9M664.1 193.4v10.4M659.7 198.6h8.9M664.9 193.6v10.4M660.5 198.8h8.9M665.7 193.7v10.4M661.2 198.9h8.9M666.5 193.9v10.4M662 199.1h8.9M667.3 194v10.4M662.8 199.2h8.9M668.1 194.1v10.4M663.6 199.3h8.9M668.9 194.2v10.4M664.4 199.4h8.9M669.6 194.4v10.4M665.2 199.6h8.9M670.4 194.5v10.4M666 199.7h8.9M671.2 194.6v10.4M666.8 199.8h8.9M672 194.8v10.4M667.6 200h8.9M672.8 194.9v10.4M668.3 200.1h8.9M673.6 195.1v10.4M669.1 200.3h8.9M674.4 195.3v10.4M669.9 200.5h8.9M675.1 195.4v10.4M670.7 200.6h8.9M675.9 195.6v10.4M671.5 200.8h8.9M676.7 195.8v10.4M672.3 201h8.9M677.5 195.9v10.4M673 201.1h8.9M678.3 196.1v10.4M673.8 201.3h8.9M679 196.3v10.4M674.6 201.5h8.9M679.8 196.5v10.4M675.4 201.7h8.9M680.6 196.6v10.4M676.2 201.8h8.9M681.4 196.8v10.4M676.9 202h8.9M682.2 197v10.4M677.7 202.2h8.9M683 197.2v10.4M678.5 202.4h8.9M683.7 197.3v10.4M679.3 202.5h8.9M684.5 197.5v10.4M680.1 202.7h8.9M685.3 197.6v10.4M680.9 202.8h8.9M686.1 197.8v10.4M681.6 203h8.9M686.9 197.9v10.4M682.4 203.1h8.9M687.7 198.1v10.4M683.2 203.3h8.9M688.4 198.3v10.4M684 203.5h8.9M689.2 198.5v10.4M684.8 203.7h8.9M690 198.7v10.4M685.5 203.9h8.9M690.7 199v10.4M686.3 204.2h8.9M691.5 199.2v10.4M687.1 204.4h8.9M692.3 199.4v10.4M687.8 204.6h8.9M693 199.7v10.4M688.6 204.9h8.9M693.8 199.9v10.4M689.4 205.1h8.9M694.6 200.1v10.4M690.1 205.3h8.9M695.3 200.4v10.4M690.9 205.5h8.9M696.1 200.5v10.4M691.7 205.7h8.9M696.9 200.7v10.4M692.4 205.9h8.9M697.7 200.8v10.4M693.2 206h8.9M698.5 201v10.4M694 206.2h8.9M699.3 201.2v10.4M694.8 206.4h8.9M700 201.3v10.4M695.6 206.5h8.9M700.8 201.5v10.4M696.4 206.7h8.9M701.6 201.6v10.4M697.2 206.8h8.9M702.4 201.8v10.4M698 207h8.9M703.2 202v10.3M698.7 207.1h8.9M704 202.1v10.3M699.5 207.3h8.9M704.7 202.3v10.3M700.3 207.4h8.8M705.5 202.5v10.3M701.1 207.6h8.8M706.3 202.6v10.3M701.9 207.8h8.8M707.1 202.8v10.3M702.7 207.9h8.8M707.9 202.9v10.3M703.5 208.1h8.8M708.7 203.1v10.3M704.3 208.2h8.8M709.4 203.3v10.2M705.1 208.4h8.8M710.2 203.4v10.2M705.8 208.6h8.8M711 203.6v10.2M706.6 208.8h8.8M711.8 203.8v10.2M707.4 208.9h8.8M712.6 204v10.2M708.2 209.1h8.7M713.3 204.2v10.2M709 209.3h8.7M714.1 204.4v10.2M709.8 209.5h8.7M714.9 204.6v10.2M710.5 209.7h8.7M715.7 204.8v10.2M711.3 209.9h8.7M716.4 205v10.1M712.1 210.1h8.7M717.2 205.2v10.1M712.9 210.3h8.7M718 205.4v10.1M713.7 210.5h8.7M718.8 205.6v10.1M714.4 210.7h8.7M719.5 205.8v10.1M715.2 210.9h8.7M720.3 206.1v10.1M716 211.2h8.6M721 206.5v10.1M716.7 211.5h8.6M721.8 206.8v10.1M717.4 211.9h8.6M722.5 207.2v10.1M718.2 212.2h8.6M723.2 207.6v10M718.9 212.6h8.6M723.9 207.9v10M719.6 213h8.6M724.6 208.3v10M720.3 213.3h8.6M725.3 208.7v10M721 213.7h8.6M726 209v10M721.8 214h8.6M726.8 209.4v10M722.5 214.4h8.6M727.5 209.7v10M723.2 214.7h8.6M728.2 210.1v10M723.9 215.1h8.5M728.9 210.5v10M724.6 215.5h8.5M729.6 210.8v10M725.4 215.8h8.5M730.3 211.2v9.9M726.1 216.2h8.5M731 211.6v9.9M726.8 216.6h8.5M731.7 212v9.9M727.5 217h8.5M732.4 212.4v9.9M728.2 217.3h8.5M733.1 212.8v9.9M728.9 217.7h8.5M733.8 213.2v9.9M729.6 218.1h8.5M734.5 213.6v9.9M730.3 218.5h8.5M735.2 214v9.9M731 218.9h8.5M735.9 214.3v9.9M731.7 219.3h8.5M736.6 214.7v9.8M732.4 219.7h8.4M737.4 215.1v9.8M733.1 220h8.4M738.1 215.5v9.8M733.8 220.4h8.4M738.8 215.9v9.8M734.5 220.8h8.4M739.5 216.3v9.8M735.3 221.2h8.4M740.2 216.6v9.8M736 221.5h8.4M740.9 216.7v9.8M736.7 221.6h8.4M741.7 216.8v9.8M737.5 221.7h8.4M742.5 216.9v9.8M738.3 221.8h8.4M743.3 217v9.8M739.1 221.9h8.4M744.1 217.1v9.8M739.9 222h8.4M744.9 217.2v9.8M740.7 222.1h8.4M745.7 217.3v9.8M741.5 222.2h8.4M746.5 217.4v9.8M742.3 222.3h8.4M747.3 217.5v9.8M743.1 222.4h8.4M748.1 217.6v9.8M743.9 222.5h8.4M748.9 217.7v9.8M744.7 222.6h8.4M750.2 217.9v9.8M746 222.8h8.4M749.6 220.8v9.8M745.4 225.7h8.4M750.6 224.6v9.8M746.4 229.5h8.4M751.2 229v9.8M747 233.9h8.4M751.8 233.8v9.8M747.6 238.7h8.4M752.3 233.7v9.8M748.1 238.6h8.4M753.2 233.7v9.8M749 238.6h8.4M754.1 233.7v9.8M749.9 238.6h8.4M755 233.7v9.8M750.8 238.6h8.4M755.9 233.7v9.8M751.7 238.6h8.4M756.8 233.7v9.8M752.6 238.6h8.4M757.7 233.7v9.8M753.5 238.6h8.4M758.6 233.7v9.8M754.4 238.6h8.4M761.3 294.3v9.8M757.1 299.2h8.4" stroke-width="1.1"/>
</g>
<rect x="221.65" y="3.05" width="31.6" height="13.85" fill="#0e6ab8"/>
<rect x="329.2" y="3.05" width="31.6" height="13.85" fill="#de1c24"/>
<rect x="444.9" y="3.05" width="31.6" height="13.85" fill="#0a783e"/>
<rect x="559.2" y="3.05" width="31.6" height="13.85" fill="#673a14"/>
<g font-family="'Liberation Sans', sans-serif" stroke="#0c0c0c" stroke-width="0.5">
<g stroke-width="0.15">
<text transform="translate(259.95 15.00) scale(1.0036 1)" font-size="19.0" fill="#0c0c0c">Grade</text>
<text transform="translate(367.45 15.00) scale(1.0017 1)" font-size="19.0" fill="#0c0c0c">Grade</text>
<text transform="translate(481.45 15.00) scale(0.9997 1)" font-size="19.0" fill="#0c0c0c">Grade</text>
<rect x="319.10" y="1.7" width="2.1" height="13.35" fill="#0c0c0c"/>
<rect x="426.50" y="1.7" width="2.1" height="13.35" fill="#0c0c0c"/>
<rect x="431.45" y="1.7" width="2.1" height="13.35" fill="#0c0c0c"/>
<rect x="540.10" y="1.7" width="2.1" height="13.35" fill="#0c0c0c"/>
<rect x="545.00" y="1.7" width="2.1" height="13.35" fill="#0c0c0c"/>
<rect x="550.00" y="1.7" width="2.1" height="13.35" fill="#0c0c0c"/>
<text transform="translate(598.35 15.00) scale(1.0884 1)" font-size="19.0" fill="#0c0c0c">Not</text>
<text transform="translate(635.55 15.00) scale(1.0546 1)" font-size="19.0" fill="#0c0c0c">stated</text>
</g>
<text transform="translate(38.46 58.00) scale(0.9483 1)" font-size="17.5" fill="#0c0c0c">1.0</text>
<text transform="translate(38.53 119.72) scale(0.9469 1)" font-size="17.5" fill="#0c0c0c">0.8</text>
<text transform="translate(38.53 181.44) scale(0.9487 1)" font-size="17.5" fill="#0c0c0c">0.6</text>
<text transform="translate(38.53 243.16) scale(0.9380 1)" font-size="17.5" fill="#0c0c0c">0.4</text>
<text transform="translate(38.52 304.88) scale(0.9524 1)" font-size="17.5" fill="#0c0c0c">0.2</text>
<text transform="translate(38.53 366.60) scale(0.9451 1)" font-size="17.5" fill="#0c0c0c">0.0</text>
<text transform="translate(106.84 401.70) scale(1.0417 1)" font-size="17.5" fill="#0c0c0c">0</text>
<text transform="translate(309.20 401.70) scale(0.9962 1)" font-size="17.5" fill="#0c0c0c">50</text>
<text transform="translate(510.73 401.70) scale(0.9701 1)" font-size="17.5" fill="#0c0c0c">100</text>
<text transform="translate(717.75 401.70) scale(0.9554 1)" font-size="17.5" fill="#0c0c0c">150</text>
<text transform="translate(272.38 435.70) scale(1.0001 1)" font-size="19.0" fill="#0c0c0c">Last</text>
<text transform="translate(314.55 435.70) scale(1.0014 1)" font-size="19.0" fill="#0c0c0c">Contact</text>
<text transform="translate(385.47 435.70) scale(1.0273 1)" font-size="19.0" fill="#0c0c0c">or</text>
<text transform="translate(407.75 435.70) scale(1.0176 1)" font-size="19.0" fill="#0c0c0c">Death,</text>
<text transform="translate(468.82 435.70) scale(0.9761 1)" font-size="19.0" fill="#0c0c0c">Months</text>
<text transform="translate(536.26 435.70) scale(1.0294 1)" font-size="19.0" fill="#0c0c0c">from</text>
<text transform="translate(577.91 435.70) scale(1.0457 1)" font-size="19.0" fill="#0c0c0c">Dx</text>
<text transform="translate(14.10 289.00) rotate(-90) scale(1.1071 1)" font-size="18.0" fill="#0c0c0c">Survival</text>
<text transform="translate(14.10 213.14) rotate(-90) scale(1.0724 1)" font-size="18.0" fill="#0c0c0c">Probability</text>
</g>
</svg>
</div></body></html>
